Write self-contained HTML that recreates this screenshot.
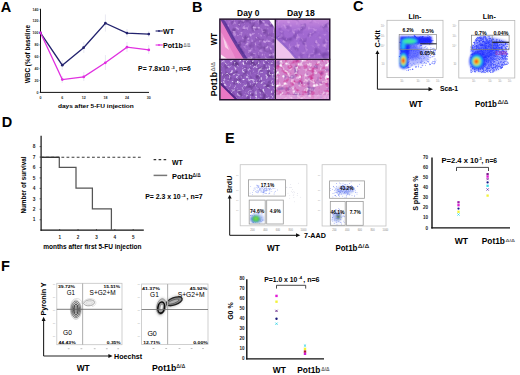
<!DOCTYPE html>
<html><head><meta charset="utf-8"><style>
html,body{margin:0;padding:0;background:#fff;}
svg{display:block;}
text{font-family:"Liberation Sans", sans-serif;}
</style></head><body>
<svg width="520" height="375" viewBox="0 0 520 375">
<rect width="520" height="375" fill="#fff"/>
<text x="0.8" y="11.5" font-size="14.5" font-weight="bold">A</text>
<line x1="40.5" y1="8.8" x2="40.5" y2="92.9" stroke="#111" stroke-width="1"/>
<line x1="40.0" y1="92.4" x2="149" y2="92.4" stroke="#111" stroke-width="1"/>
<text x="38.4" y="93.65" font-size="3.6" font-weight="bold" text-anchor="end" fill="#2a2a2a">0</text>
<line x1="39.3" y1="92.4" x2="40.5" y2="92.4" stroke="#444" stroke-width="0.5"/>
<text x="38.4" y="81.78" font-size="3.6" font-weight="bold" text-anchor="end" fill="#2a2a2a">20</text>
<line x1="39.3" y1="80.53" x2="40.5" y2="80.53" stroke="#444" stroke-width="0.5"/>
<text x="38.4" y="69.91000000000001" font-size="3.6" font-weight="bold" text-anchor="end" fill="#2a2a2a">40</text>
<line x1="39.3" y1="68.66000000000001" x2="40.5" y2="68.66000000000001" stroke="#444" stroke-width="0.5"/>
<text x="38.4" y="58.040000000000006" font-size="3.6" font-weight="bold" text-anchor="end" fill="#2a2a2a">60</text>
<line x1="39.3" y1="56.790000000000006" x2="40.5" y2="56.790000000000006" stroke="#444" stroke-width="0.5"/>
<text x="38.4" y="46.17000000000001" font-size="3.6" font-weight="bold" text-anchor="end" fill="#2a2a2a">80</text>
<line x1="39.3" y1="44.92000000000001" x2="40.5" y2="44.92000000000001" stroke="#444" stroke-width="0.5"/>
<text x="38.4" y="34.30000000000001" font-size="3.6" font-weight="bold" text-anchor="end" fill="#2a2a2a">100</text>
<line x1="39.3" y1="33.05000000000001" x2="40.5" y2="33.05000000000001" stroke="#444" stroke-width="0.5"/>
<text x="38.4" y="22.430000000000007" font-size="3.6" font-weight="bold" text-anchor="end" fill="#2a2a2a">120</text>
<line x1="39.3" y1="21.180000000000007" x2="40.5" y2="21.180000000000007" stroke="#444" stroke-width="0.5"/>
<text x="38.4" y="10.560000000000016" font-size="3.6" font-weight="bold" text-anchor="end" fill="#2a2a2a">140</text>
<line x1="39.3" y1="9.310000000000016" x2="40.5" y2="9.310000000000016" stroke="#444" stroke-width="0.5"/>
<text x="40.5" y="99.2" font-size="3.6" font-weight="bold" text-anchor="middle" fill="#2a2a2a">0</text>
<text x="62.2" y="99.2" font-size="3.6" font-weight="bold" text-anchor="middle" fill="#2a2a2a">6</text>
<text x="83.8" y="99.2" font-size="3.6" font-weight="bold" text-anchor="middle" fill="#2a2a2a">12</text>
<text x="105.4" y="99.2" font-size="3.6" font-weight="bold" text-anchor="middle" fill="#2a2a2a">18</text>
<text x="127.0" y="99.2" font-size="3.6" font-weight="bold" text-anchor="middle" fill="#2a2a2a">24</text>
<text x="148.7" y="99.2" font-size="3.6" font-weight="bold" text-anchor="middle" fill="#2a2a2a">30</text>
<line x1="105.4" y1="14.5" x2="105.4" y2="31.5" stroke="#d8d8e8" stroke-width="0.6"/>
<line x1="83.8" y1="42" x2="83.8" y2="53" stroke="#d8d8e8" stroke-width="0.6"/>
<line x1="127" y1="29" x2="127" y2="37" stroke="#d8d8e8" stroke-width="0.6"/>
<line x1="148.7" y1="31" x2="148.7" y2="37" stroke="#d8d8e8" stroke-width="0.6"/>
<line x1="62.2" y1="60" x2="62.2" y2="70" stroke="#d8d8e8" stroke-width="0.6"/>
<line x1="105.4" y1="55" x2="105.4" y2="70" stroke="#d8d8e8" stroke-width="0.6"/>
<line x1="127" y1="42" x2="127" y2="52" stroke="#d8d8e8" stroke-width="0.6"/>
<line x1="148.7" y1="45" x2="148.7" y2="54" stroke="#d8d8e8" stroke-width="0.6"/>
<line x1="83.8" y1="72" x2="83.8" y2="81" stroke="#d8d8e8" stroke-width="0.6"/>
<line x1="62.2" y1="76" x2="62.2" y2="83" stroke="#d8d8e8" stroke-width="0.6"/>
<polyline points="40.5,32.8 62.3,65.2 83.6,47.7 105.4,23.2 127,33.1 148.8,34.1" fill="none" stroke="#22226e" stroke-width="1.3"/>
<polyline points="40.5,32.8 62.3,79.6 83.7,76.9 105.3,62.8 127,47.2 148.8,49.9" fill="none" stroke="#e030e0" stroke-width="1.3"/>
<circle cx="40.5" cy="32.8" r="1.35" fill="#22226e"/>
<circle cx="62.3" cy="65.2" r="1.35" fill="#22226e"/>
<circle cx="83.6" cy="47.7" r="1.35" fill="#22226e"/>
<circle cx="105.4" cy="23.2" r="1.35" fill="#22226e"/>
<circle cx="127" cy="33.1" r="1.35" fill="#22226e"/>
<circle cx="148.8" cy="34.1" r="1.35" fill="#22226e"/>
<circle cx="40.5" cy="32.8" r="1.35" fill="#e030e0"/>
<circle cx="62.3" cy="79.6" r="1.35" fill="#e030e0"/>
<circle cx="83.7" cy="76.9" r="1.35" fill="#e030e0"/>
<circle cx="105.3" cy="62.8" r="1.35" fill="#e030e0"/>
<circle cx="127" cy="47.2" r="1.35" fill="#e030e0"/>
<circle cx="148.8" cy="49.9" r="1.35" fill="#e030e0"/>
<text x="29.9" y="83.2" font-size="6.5" font-weight="bold" textLength="58.3" lengthAdjust="spacingAndGlyphs" transform="rotate(-90 29.9 83.2)">WBC (%of baseline</text>
<text x="57.9" y="107.6" font-size="6.1" font-weight="bold" textLength="75.8" lengthAdjust="spacingAndGlyphs">days after 5-FU injection</text>
<line x1="155.6" y1="31" x2="162.8" y2="31" stroke="#22226e" stroke-width="1.1"/>
<circle cx="159" cy="31" r="0.9" fill="#22226e"/>
<text x="163" y="33.6" font-size="7.4" font-weight="bold" textLength="11" lengthAdjust="spacingAndGlyphs">WT</text>
<line x1="155.6" y1="45" x2="162.8" y2="45" stroke="#e030e0" stroke-width="1.1"/>
<circle cx="159" cy="45" r="0.9" fill="#e030e0"/>
<text x="163" y="47.6" font-size="7.4" font-weight="bold" textLength="19.8" lengthAdjust="spacingAndGlyphs">Pot1b</text>
<text x="183.6" y="46.6" font-size="5.4" font-weight="bold" textLength="6.8" lengthAdjust="spacingAndGlyphs" fill="#777">Δ/Δ</text>
<text x="138.1" y="70.9" font-size="6.9" font-weight="bold" textLength="31.5" lengthAdjust="spacingAndGlyphs">P= 7.8x10</text>
<text x="171.2" y="68.5" font-size="4.2" font-weight="bold" textLength="3.5" lengthAdjust="spacingAndGlyphs">-3</text>
<text x="175.4" y="70.9" font-size="6.9" font-weight="bold" textLength="15.3" lengthAdjust="spacingAndGlyphs">, n=6</text>
<text x="191.9" y="11.5" font-size="14.5" font-weight="bold">B</text>
<text x="237.1" y="15.5" font-size="9.0" font-weight="bold" textLength="22.3" lengthAdjust="spacingAndGlyphs">Day 0</text>
<text x="287.1" y="15.5" font-size="9.0" font-weight="bold" textLength="27.7" lengthAdjust="spacingAndGlyphs">Day 18</text>
<text x="217.2" y="45.2" font-size="8.4" font-weight="bold" textLength="12.2" lengthAdjust="spacingAndGlyphs" transform="rotate(-90 217.2 45.2)">WT</text>
<text x="217.3" y="96.3" font-size="8.4" font-weight="bold" textLength="24.3" lengthAdjust="spacingAndGlyphs" transform="rotate(-90 217.3 96.3)">Pot1b</text>
<text x="215.2" y="71.6" font-size="4.8" font-weight="bold" textLength="9.6" lengthAdjust="spacingAndGlyphs" fill="#777" transform="rotate(-90 215.2 71.6)">Δ/Δ</text>
<defs><clipPath id="cTL"><rect x="220.4" y="19.8" width="54.3" height="39"/></clipPath><clipPath id="cTR"><rect x="275.9" y="19.8" width="53.4" height="39"/></clipPath><clipPath id="cBL"><rect x="220.4" y="59.9" width="54.3" height="39.4"/></clipPath><clipPath id="cBR"><rect x="275.9" y="59.9" width="53.4" height="39.4"/></clipPath><clipPath id="cEw"><rect x="249.6" y="200.5" width="15.2" height="23.1"/></clipPath><filter id="soft" x="0" y="0" width="1" height="1"><feGaussianBlur stdDeviation="0.35"/></filter><filter id="blur05" x="-20%" y="-20%" width="140%" height="140%"><feGaussianBlur stdDeviation="0.4"/></filter><filter id="blur1"><feGaussianBlur stdDeviation="0.8"/></filter><filter id="blur2"><feGaussianBlur stdDeviation="1.5"/></filter><linearGradient id="gTR" x1="0" y1="0" x2="0" y2="1"><stop offset="0" stop-color="#c88ade"/><stop offset="0.3" stop-color="#a26ad2"/><stop offset="1" stop-color="#9c66cc"/></linearGradient></defs>
<g clip-path="url(#cTL)"><g filter="url(#tile)">
<rect x="220" y="19.5" width="55" height="40" fill="#9862c4" stroke="none" stroke-width="1"/>
<rect x="220" y="19.5" width="55" height="40" fill="#000" filter="url(#tl_d)"/>
<rect x="220" y="19.5" width="55" height="40" fill="#000" filter="url(#tl_l)"/>
<g filter="url(#soft)">
<polygon points="219,19 222,19 226,26 232,37 238,47 246,59.5 219,59.5" fill="#e67cc6"/>
<polygon points="219,30 222.5,34 228,44 233,53 236,59.5 219,59.5" fill="#ee98d4" opacity="0.8"/>
<polygon points="223,37 226,42 229,50 225,47" fill="#fbe0f0" opacity="0.8"/>
<polyline points="222,19 226,26 232,37 238,47 246,59.5" fill="none" stroke="#4e2c94" stroke-width="3.4" opacity="0.8"/>
<polygon points="268.5,19 275,19 275,28" fill="#ffffff"/>
<polygon points="221,54.5 227,58.8 221,58.8" fill="#fff" opacity="0.85"/>
</g>
</g></g>
<g clip-path="url(#cTR)"><g filter="url(#tile)">
<rect x="275.5" y="19.5" width="54.5" height="40" fill="url(#gTR)" stroke="none" stroke-width="1"/>
<rect x="275.5" y="19.5" width="54.5" height="40" fill="#000" filter="url(#tr_d)"/>
<rect x="275.5" y="19.5" width="54.5" height="40" fill="#000" filter="url(#tr_l)"/>
<g filter="url(#soft)">
<polygon points="275,36.5 283,44 290,51 297,59.5 275,59.5" fill="#f0c4ec"/>
<polyline points="275,36.5 283,44 290,51 297,59.5" fill="none" stroke="#8a5cc8" stroke-width="2" opacity="0.8"/>
</g>
</g></g>
<g clip-path="url(#cBL)"><g filter="url(#tile)">
<rect x="220" y="59.5" width="55" height="40.5" fill="#905cbe" stroke="none" stroke-width="1"/>
<rect x="220" y="59.5" width="55" height="40.5" fill="#000" filter="url(#bl_d)"/>
<rect x="220" y="59.5" width="55" height="40.5" fill="#000" filter="url(#bl_l)"/>
<g filter="url(#soft)">
<polygon points="219,82 237,100 219,100" fill="#ea78c4"/>
<line x1="219" y1="82" x2="237" y2="100" stroke="#54288a" stroke-width="2"/>
</g>
</g></g>
<g clip-path="url(#cBR)"><g filter="url(#tile)">
<rect x="275.5" y="59.5" width="54.5" height="40.5" fill="#d488cc" stroke="none" stroke-width="1"/>
<rect x="275.5" y="59.5" width="54.5" height="40.5" fill="#000" filter="url(#br_m)"/>
<rect x="275.5" y="59.5" width="54.5" height="40.5" fill="#000" filter="url(#br_p)"/>
<rect x="275.5" y="59.5" width="54.5" height="40.5" fill="#000" filter="url(#br_w)"/>
<rect x="275.5" y="95" width="54.5" height="5" fill="#eab8e6" opacity="0.6"/>
</g></g>
<defs><filter id="tl_d" x="0" y="0" width="1" height="1" filterUnits="objectBoundingBox" color-interpolation-filters="sRGB"><feTurbulence type="fractalNoise" baseFrequency="0.16" numOctaves="2" seed="11" result="n"/><feColorMatrix in="n" type="matrix" values="0 0 0 0 0.431 0 0 0 0 0.243 0 0 0 0 0.596 0 3.0 0 0 -1.500"/></filter><filter id="tl_l" x="0" y="0" width="1" height="1" filterUnits="objectBoundingBox" color-interpolation-filters="sRGB"><feTurbulence type="fractalNoise" baseFrequency="0.3" numOctaves="2" seed="3" result="n"/><feColorMatrix in="n" type="matrix" values="0 0 0 0 0.831 0 0 0 0 0.667 0 0 0 0 0.925 3.2 0 0 0 -1.728"/></filter><filter id="tr_d" x="0" y="0" width="1" height="1" filterUnits="objectBoundingBox" color-interpolation-filters="sRGB"><feTurbulence type="fractalNoise" baseFrequency="0.14" numOctaves="2" seed="21" result="n"/><feColorMatrix in="n" type="matrix" values="0 0 0 0 0.478 0 0 0 0 0.282 0 0 0 0 0.675 0 3 0 0 -1.560"/></filter><filter id="tr_l" x="0" y="0" width="1" height="1" filterUnits="objectBoundingBox" color-interpolation-filters="sRGB"><feTurbulence type="fractalNoise" baseFrequency="0.25" numOctaves="2" seed="22" result="n"/><feColorMatrix in="n" type="matrix" values="0 0 0 0 0.824 0 0 0 0 0.627 0 0 0 0 0.910 3 0 0 0 -1.710"/></filter><filter id="bl_d" x="0" y="0" width="1" height="1" filterUnits="objectBoundingBox" color-interpolation-filters="sRGB"><feTurbulence type="fractalNoise" baseFrequency="0.18" numOctaves="2" seed="31" result="n"/><feColorMatrix in="n" type="matrix" values="0 0 0 0 0.400 0 0 0 0 0.220 0 0 0 0 0.557 0 3 0 0 -1.500"/></filter><filter id="bl_l" x="0" y="0" width="1" height="1" filterUnits="objectBoundingBox" color-interpolation-filters="sRGB"><feTurbulence type="fractalNoise" baseFrequency="0.38" numOctaves="2" seed="32" result="n"/><feColorMatrix in="n" type="matrix" values="0 0 0 0 0.941 0 0 0 0 0.902 0 0 0 0 0.988 3.6 0 0 0 -2.016"/></filter><filter id="br_m" x="0" y="0" width="1" height="1" filterUnits="objectBoundingBox" color-interpolation-filters="sRGB"><feTurbulence type="fractalNoise" baseFrequency="0.2" numOctaves="2" seed="41" result="n"/><feColorMatrix in="n" type="matrix" values="0 0 0 0 0.808 0 0 0 0 0.227 0 0 0 0 0.588 3.2 0 0 0 -1.600"/></filter><filter id="br_p" x="0" y="0" width="1" height="1" filterUnits="objectBoundingBox" color-interpolation-filters="sRGB"><feTurbulence type="fractalNoise" baseFrequency="0.15" numOctaves="2" seed="42" result="n"/><feColorMatrix in="n" type="matrix" values="0 0 0 0 0.502 0 0 0 0 0.314 0 0 0 0 0.675 0 3.2 0 0 -1.792"/></filter><filter id="br_w" x="0" y="0" width="1" height="1" filterUnits="objectBoundingBox" color-interpolation-filters="sRGB"><feTurbulence type="fractalNoise" baseFrequency="0.24" numOctaves="2" seed="43" result="n"/><feColorMatrix in="n" type="matrix" values="0 0 0 0 1.000 0 0 0 0 0.980 0 0 0 0 1.000 0 0 3.6 0 -1.944"/></filter><filter id="tile" x="-5%" y="-5%" width="110%" height="110%"><feGaussianBlur stdDeviation="0.45"/></filter></defs>
<rect x="219.9" y="19.15" width="109.85" height="80.6" fill="none" stroke="#24122e" stroke-width="1.5"/>
<line x1="275.3" y1="19" x2="275.3" y2="100" stroke="#24122e" stroke-width="1.4"/>
<line x1="219.5" y1="59.35" x2="330.3" y2="59.35" stroke="#24122e" stroke-width="1.4"/>
<text x="353.0" y="11.2" font-size="14.5" font-weight="bold">C</text>
<text x="408.4" y="19.0" font-size="7.3" font-weight="bold" textLength="12.9" lengthAdjust="spacingAndGlyphs">Lin-</text>
<text x="482.8" y="19.0" font-size="7.3" font-weight="bold" textLength="13.0" lengthAdjust="spacingAndGlyphs">Lin-</text>
<rect x="387" y="20.3" width="56" height="57.3" fill="none" stroke="#b8b8b8" stroke-width="0.8"/>
<text x="384.5" y="26.6" font-size="2.6" text-anchor="end" fill="#999">10²</text>
<text x="384.5" y="36.9" font-size="2.6" text-anchor="end" fill="#999">10³</text>
<text x="384.5" y="47.1" font-size="2.6" text-anchor="end" fill="#999">10⁴</text>
<text x="384.5" y="64.9" font-size="2.6" text-anchor="end" fill="#999">10</text>
<text x="402" y="81.8" font-size="2.6" text-anchor="middle" fill="#999">10³</text>
<text x="418.3" y="81.8" font-size="2.6" text-anchor="middle" fill="#999">10³</text>
<text x="428.2" y="81.8" font-size="2.6" text-anchor="middle" fill="#999">10³</text>
<text x="437.9" y="81.8" font-size="2.6" text-anchor="middle" fill="#999">10³</text>
<rect x="458.8" y="20.4" width="55.99999999999994" height="57.6" fill="none" stroke="#b8b8b8" stroke-width="0.8"/>
<text x="456.3" y="26.6" font-size="2.6" text-anchor="end" fill="#999">10²</text>
<text x="456.3" y="36.9" font-size="2.6" text-anchor="end" fill="#999">10³</text>
<text x="456.3" y="47.1" font-size="2.6" text-anchor="end" fill="#999">10⁴</text>
<text x="456.3" y="64.9" font-size="2.6" text-anchor="end" fill="#999">10</text>
<text x="473.8" y="82.2" font-size="2.6" text-anchor="middle" fill="#999">10³</text>
<text x="490.1" y="82.2" font-size="2.6" text-anchor="middle" fill="#999">10³</text>
<text x="500.0" y="82.2" font-size="2.6" text-anchor="middle" fill="#999">10³</text>
<text x="509.7" y="82.2" font-size="2.6" text-anchor="middle" fill="#999">10³</text>
<g fill="#5062ff"><circle cx="415.7" cy="47.4" r="0.45"/><circle cx="422.1" cy="53.6" r="0.45"/><circle cx="407.7" cy="57.7" r="0.45"/><circle cx="407.1" cy="55.6" r="0.45"/><circle cx="408.1" cy="45.6" r="0.45"/><circle cx="418.7" cy="67.0" r="0.45"/><circle cx="409.7" cy="49.5" r="0.45"/><circle cx="423.3" cy="54.5" r="0.45"/><circle cx="431.8" cy="51.4" r="0.45"/><circle cx="410.3" cy="46.4" r="0.45"/><circle cx="415.3" cy="66.7" r="0.45"/><circle cx="411.4" cy="59.9" r="0.45"/><circle cx="425.2" cy="53.8" r="0.45"/><circle cx="407.8" cy="49.0" r="0.45"/><circle cx="426.4" cy="55.4" r="0.45"/><circle cx="415.4" cy="60.0" r="0.45"/><circle cx="419.6" cy="51.7" r="0.45"/><circle cx="429.8" cy="63.3" r="0.45"/><circle cx="413.3" cy="59.7" r="0.45"/><circle cx="427.9" cy="51.4" r="0.45"/><circle cx="418.5" cy="65.0" r="0.45"/><circle cx="410.6" cy="57.2" r="0.45"/><circle cx="407.2" cy="62.4" r="0.45"/><circle cx="428.9" cy="59.6" r="0.45"/><circle cx="432.3" cy="52.1" r="0.45"/><circle cx="426.9" cy="60.2" r="0.45"/><circle cx="423.4" cy="56.2" r="0.45"/><circle cx="420.2" cy="62.3" r="0.45"/><circle cx="407.8" cy="63.3" r="0.45"/><circle cx="430.7" cy="51.3" r="0.45"/><circle cx="417.6" cy="62.4" r="0.45"/><circle cx="406.7" cy="56.4" r="0.45"/><circle cx="411.0" cy="46.4" r="0.45"/><circle cx="407.8" cy="65.3" r="0.45"/><circle cx="409.9" cy="50.2" r="0.45"/><circle cx="408.4" cy="56.0" r="0.45"/><circle cx="414.4" cy="55.0" r="0.45"/><circle cx="411.3" cy="49.7" r="0.45"/><circle cx="413.0" cy="57.1" r="0.45"/><circle cx="423.7" cy="50.6" r="0.45"/><circle cx="406.1" cy="55.1" r="0.45"/><circle cx="417.1" cy="59.4" r="0.45"/><circle cx="434.6" cy="63.0" r="0.45"/><circle cx="421.5" cy="60.9" r="0.45"/><circle cx="417.8" cy="54.6" r="0.45"/><circle cx="409.1" cy="61.4" r="0.45"/><circle cx="407.9" cy="45.0" r="0.45"/><circle cx="412.3" cy="47.7" r="0.45"/><circle cx="406.0" cy="47.4" r="0.45"/><circle cx="409.0" cy="53.5" r="0.45"/><circle cx="406.8" cy="68.4" r="0.45"/><circle cx="424.4" cy="47.3" r="0.45"/><circle cx="413.6" cy="53.1" r="0.45"/><circle cx="416.9" cy="46.6" r="0.45"/><circle cx="420.0" cy="57.0" r="0.45"/><circle cx="408.6" cy="46.0" r="0.45"/><circle cx="416.3" cy="50.7" r="0.45"/><circle cx="430.9" cy="47.7" r="0.45"/><circle cx="406.7" cy="70.6" r="0.45"/><circle cx="421.8" cy="47.3" r="0.45"/><circle cx="431.9" cy="63.2" r="0.45"/><circle cx="413.8" cy="53.6" r="0.45"/><circle cx="411.0" cy="65.4" r="0.45"/><circle cx="422.0" cy="65.6" r="0.45"/><circle cx="415.9" cy="49.5" r="0.45"/><circle cx="430.5" cy="64.5" r="0.45"/><circle cx="412.8" cy="58.0" r="0.45"/><circle cx="406.8" cy="51.1" r="0.45"/><circle cx="413.8" cy="63.1" r="0.45"/><circle cx="434.7" cy="56.0" r="0.45"/><circle cx="434.7" cy="53.6" r="0.45"/><circle cx="412.6" cy="49.6" r="0.45"/><circle cx="411.9" cy="48.9" r="0.45"/><circle cx="431.2" cy="56.9" r="0.45"/><circle cx="408.5" cy="62.2" r="0.45"/><circle cx="428.5" cy="56.9" r="0.45"/><circle cx="411.4" cy="65.9" r="0.45"/><circle cx="416.0" cy="66.2" r="0.45"/><circle cx="435.1" cy="54.5" r="0.45"/><circle cx="427.7" cy="47.9" r="0.45"/><circle cx="409.8" cy="47.4" r="0.45"/><circle cx="410.4" cy="67.0" r="0.45"/><circle cx="435.4" cy="62.1" r="0.45"/><circle cx="416.5" cy="58.9" r="0.45"/><circle cx="435.1" cy="61.8" r="0.45"/><circle cx="430.8" cy="49.1" r="0.45"/><circle cx="413.6" cy="51.5" r="0.45"/><circle cx="413.2" cy="60.0" r="0.45"/><circle cx="413.8" cy="55.2" r="0.45"/><circle cx="409.9" cy="69.4" r="0.45"/><circle cx="416.6" cy="56.3" r="0.45"/><circle cx="421.0" cy="58.4" r="0.45"/><circle cx="419.2" cy="48.3" r="0.45"/><circle cx="406.1" cy="66.2" r="0.45"/><circle cx="411.2" cy="56.7" r="0.45"/><circle cx="427.8" cy="59.1" r="0.45"/><circle cx="415.8" cy="58.0" r="0.45"/><circle cx="422.7" cy="65.7" r="0.45"/><circle cx="409.2" cy="59.2" r="0.45"/><circle cx="413.5" cy="51.0" r="0.45"/><circle cx="429.2" cy="57.7" r="0.45"/><circle cx="422.9" cy="65.0" r="0.45"/><circle cx="433.4" cy="55.9" r="0.45"/><circle cx="424.4" cy="57.7" r="0.45"/><circle cx="421.4" cy="63.1" r="0.45"/><circle cx="419.6" cy="58.5" r="0.45"/><circle cx="434.3" cy="50.5" r="0.45"/><circle cx="409.6" cy="55.8" r="0.45"/><circle cx="408.2" cy="50.0" r="0.45"/><circle cx="408.2" cy="62.4" r="0.45"/><circle cx="410.6" cy="63.8" r="0.45"/><circle cx="425.8" cy="47.1" r="0.45"/><circle cx="417.9" cy="57.1" r="0.45"/><circle cx="410.8" cy="55.5" r="0.45"/><circle cx="421.5" cy="52.8" r="0.45"/><circle cx="411.9" cy="52.2" r="0.45"/><circle cx="422.6" cy="55.8" r="0.45"/><circle cx="406.5" cy="52.6" r="0.45"/><circle cx="424.7" cy="57.9" r="0.45"/><circle cx="409.1" cy="50.7" r="0.45"/><circle cx="407.2" cy="65.6" r="0.45"/><circle cx="414.1" cy="46.8" r="0.45"/><circle cx="430.6" cy="50.5" r="0.45"/><circle cx="410.5" cy="69.7" r="0.45"/><circle cx="423.1" cy="63.3" r="0.45"/><circle cx="408.7" cy="44.7" r="0.45"/><circle cx="426.6" cy="55.3" r="0.45"/><circle cx="408.2" cy="70.2" r="0.45"/><circle cx="408.5" cy="67.8" r="0.45"/><circle cx="408.0" cy="68.0" r="0.45"/><circle cx="419.6" cy="52.8" r="0.45"/><circle cx="414.0" cy="46.7" r="0.45"/><circle cx="421.8" cy="49.9" r="0.45"/><circle cx="409.3" cy="47.7" r="0.45"/><circle cx="407.5" cy="48.9" r="0.45"/><circle cx="415.4" cy="51.8" r="0.45"/><circle cx="428.8" cy="51.4" r="0.45"/><circle cx="421.0" cy="48.2" r="0.45"/><circle cx="428.0" cy="59.0" r="0.45"/><circle cx="411.7" cy="56.8" r="0.45"/><circle cx="430.6" cy="55.5" r="0.45"/><circle cx="420.9" cy="67.2" r="0.45"/><circle cx="417.8" cy="57.7" r="0.45"/><circle cx="416.3" cy="67.1" r="0.45"/><circle cx="427.2" cy="61.4" r="0.45"/><circle cx="418.1" cy="53.1" r="0.45"/><circle cx="407.6" cy="46.8" r="0.45"/><circle cx="408.1" cy="64.5" r="0.45"/><circle cx="413.7" cy="47.7" r="0.45"/><circle cx="408.5" cy="67.4" r="0.45"/><circle cx="432.1" cy="62.4" r="0.45"/><circle cx="414.5" cy="50.0" r="0.45"/><circle cx="414.8" cy="56.3" r="0.45"/><circle cx="410.7" cy="55.9" r="0.45"/><circle cx="435.2" cy="58.9" r="0.45"/><circle cx="415.3" cy="53.3" r="0.45"/><circle cx="406.0" cy="54.1" r="0.45"/><circle cx="420.2" cy="57.6" r="0.45"/><circle cx="412.0" cy="57.6" r="0.45"/><circle cx="406.1" cy="50.7" r="0.45"/><circle cx="408.7" cy="54.6" r="0.45"/><circle cx="415.1" cy="49.8" r="0.45"/><circle cx="423.6" cy="58.3" r="0.45"/><circle cx="428.5" cy="62.1" r="0.45"/><circle cx="417.7" cy="52.5" r="0.45"/><circle cx="427.7" cy="61.7" r="0.45"/><circle cx="407.3" cy="67.2" r="0.45"/><circle cx="432.8" cy="61.2" r="0.45"/><circle cx="410.2" cy="58.2" r="0.45"/><circle cx="421.1" cy="67.2" r="0.45"/><circle cx="426.5" cy="63.1" r="0.45"/><circle cx="410.0" cy="53.5" r="0.45"/><circle cx="409.1" cy="67.2" r="0.45"/><circle cx="422.8" cy="61.2" r="0.45"/><circle cx="424.8" cy="62.7" r="0.45"/><circle cx="429.9" cy="64.7" r="0.45"/><circle cx="421.1" cy="58.5" r="0.45"/><circle cx="428.1" cy="50.3" r="0.45"/><circle cx="408.2" cy="50.7" r="0.45"/><circle cx="427.9" cy="49.0" r="0.45"/><circle cx="420.8" cy="54.1" r="0.45"/><circle cx="420.4" cy="62.8" r="0.45"/><circle cx="429.0" cy="60.9" r="0.45"/><circle cx="410.4" cy="50.4" r="0.45"/><circle cx="428.3" cy="51.8" r="0.45"/><circle cx="407.8" cy="50.8" r="0.45"/><circle cx="426.2" cy="63.1" r="0.45"/><circle cx="426.3" cy="51.4" r="0.45"/><circle cx="421.5" cy="56.5" r="0.45"/><circle cx="420.0" cy="46.4" r="0.45"/><circle cx="432.8" cy="48.8" r="0.45"/><circle cx="406.5" cy="56.3" r="0.45"/><circle cx="419.5" cy="50.8" r="0.45"/><circle cx="412.3" cy="59.9" r="0.45"/><circle cx="410.3" cy="58.2" r="0.45"/><circle cx="430.6" cy="57.8" r="0.45"/><circle cx="432.6" cy="63.4" r="0.45"/><circle cx="412.9" cy="69.0" r="0.45"/><circle cx="406.1" cy="57.3" r="0.45"/><circle cx="419.5" cy="51.8" r="0.45"/><circle cx="410.2" cy="53.0" r="0.45"/><circle cx="415.5" cy="67.4" r="0.45"/><circle cx="406.1" cy="64.8" r="0.45"/><circle cx="433.8" cy="63.7" r="0.45"/><circle cx="433.0" cy="51.4" r="0.45"/><circle cx="417.2" cy="54.4" r="0.45"/><circle cx="436.0" cy="60.1" r="0.45"/><circle cx="416.8" cy="55.4" r="0.45"/><circle cx="409.1" cy="67.2" r="0.45"/><circle cx="413.5" cy="50.7" r="0.45"/><circle cx="421.3" cy="48.5" r="0.45"/><circle cx="434.2" cy="58.9" r="0.45"/><circle cx="428.0" cy="56.1" r="0.45"/><circle cx="428.6" cy="61.7" r="0.45"/><circle cx="420.2" cy="53.0" r="0.45"/><circle cx="414.9" cy="64.4" r="0.45"/><circle cx="435.3" cy="50.5" r="0.45"/><circle cx="425.7" cy="51.7" r="0.45"/><circle cx="422.7" cy="54.4" r="0.45"/><circle cx="411.0" cy="47.7" r="0.45"/><circle cx="412.2" cy="69.3" r="0.45"/><circle cx="420.9" cy="49.4" r="0.45"/><circle cx="419.5" cy="47.0" r="0.45"/><circle cx="411.8" cy="45.6" r="0.45"/><circle cx="416.3" cy="45.6" r="0.45"/><circle cx="413.2" cy="50.5" r="0.45"/><circle cx="428.5" cy="55.0" r="0.45"/><circle cx="418.4" cy="58.2" r="0.45"/><circle cx="417.3" cy="52.8" r="0.45"/><circle cx="407.9" cy="51.0" r="0.45"/><circle cx="421.1" cy="61.3" r="0.45"/><circle cx="431.9" cy="49.3" r="0.45"/><circle cx="414.1" cy="50.2" r="0.45"/><circle cx="418.0" cy="55.9" r="0.45"/><circle cx="407.0" cy="63.6" r="0.45"/><circle cx="432.9" cy="56.7" r="0.45"/><circle cx="435.2" cy="50.2" r="0.45"/><circle cx="409.3" cy="47.5" r="0.45"/><circle cx="421.7" cy="62.8" r="0.45"/><circle cx="434.2" cy="63.9" r="0.45"/><circle cx="425.4" cy="65.2" r="0.45"/><circle cx="419.7" cy="59.0" r="0.45"/><circle cx="407.2" cy="65.7" r="0.45"/><circle cx="425.4" cy="51.8" r="0.45"/><circle cx="409.8" cy="50.3" r="0.45"/><circle cx="425.1" cy="63.3" r="0.45"/><circle cx="409.4" cy="45.0" r="0.45"/><circle cx="421.7" cy="59.9" r="0.45"/><circle cx="417.6" cy="49.5" r="0.45"/><circle cx="415.0" cy="56.4" r="0.45"/><circle cx="434.8" cy="61.7" r="0.45"/><circle cx="432.5" cy="56.8" r="0.45"/><circle cx="413.0" cy="50.2" r="0.45"/><circle cx="434.8" cy="63.4" r="0.45"/><circle cx="420.9" cy="62.6" r="0.45"/><circle cx="418.6" cy="50.5" r="0.45"/><circle cx="416.1" cy="55.2" r="0.45"/><circle cx="426.5" cy="48.7" r="0.45"/><circle cx="429.9" cy="64.4" r="0.45"/><circle cx="421.1" cy="49.0" r="0.45"/><circle cx="435.1" cy="52.0" r="0.45"/><circle cx="430.6" cy="49.7" r="0.45"/><circle cx="412.6" cy="65.1" r="0.45"/><circle cx="420.9" cy="48.4" r="0.45"/><circle cx="412.7" cy="55.1" r="0.45"/><circle cx="410.4" cy="54.4" r="0.45"/><circle cx="407.8" cy="54.4" r="0.45"/><circle cx="433.9" cy="52.5" r="0.45"/><circle cx="425.9" cy="54.0" r="0.45"/><circle cx="417.2" cy="52.6" r="0.45"/><circle cx="414.4" cy="53.2" r="0.45"/><circle cx="434.9" cy="49.0" r="0.45"/><circle cx="416.7" cy="66.8" r="0.45"/><circle cx="430.7" cy="55.5" r="0.45"/><circle cx="407.5" cy="56.7" r="0.45"/><circle cx="411.8" cy="53.6" r="0.45"/><circle cx="418.3" cy="66.5" r="0.45"/><circle cx="407.0" cy="44.8" r="0.45"/><circle cx="433.6" cy="50.5" r="0.45"/><circle cx="416.2" cy="50.9" r="0.45"/><circle cx="434.7" cy="60.9" r="0.45"/><circle cx="413.9" cy="63.8" r="0.45"/><circle cx="415.5" cy="51.0" r="0.45"/><circle cx="406.1" cy="64.9" r="0.45"/><circle cx="433.5" cy="61.4" r="0.45"/><circle cx="413.0" cy="56.8" r="0.45"/><circle cx="417.6" cy="50.3" r="0.45"/><circle cx="418.9" cy="57.3" r="0.45"/><circle cx="433.8" cy="48.3" r="0.45"/><circle cx="430.1" cy="64.4" r="0.45"/><circle cx="424.2" cy="52.5" r="0.45"/><circle cx="415.6" cy="53.5" r="0.45"/><circle cx="411.9" cy="64.8" r="0.45"/><circle cx="407.0" cy="59.0" r="0.45"/><circle cx="413.9" cy="45.4" r="0.45"/><circle cx="408.9" cy="57.5" r="0.45"/><circle cx="427.3" cy="56.0" r="0.45"/><circle cx="413.0" cy="55.1" r="0.45"/><circle cx="424.6" cy="62.5" r="0.45"/><circle cx="425.9" cy="46.5" r="0.45"/></g>
<g filter="url(#blur1)">
<path d="M408,44 L420,45 L430,52 L428,60 L420,64 L410,66 Z" fill="#6f7cff" opacity="0.55"/>
<path d="M408,44 L416,45 L422,52 L418,58 L410,60 Z" fill="#3a48ff" opacity="0.6"/>
<path d="M399.8,36.2 L431.5,36.6 L432.3,43.8 L410,44.6 L409,54 L408.6,66.5 L404,69 L399.8,67 Z" fill="#1e22ff"/>
</g>
<g fill="#2233ff"><circle cx="405.6" cy="43.0" r="0.5"/><circle cx="400.9" cy="46.1" r="0.5"/><circle cx="403.8" cy="43.4" r="0.5"/><circle cx="404.0" cy="57.5" r="0.5"/><circle cx="408.1" cy="67.0" r="0.5"/><circle cx="401.3" cy="45.8" r="0.5"/><circle cx="401.5" cy="49.7" r="0.5"/><circle cx="405.6" cy="49.7" r="0.5"/><circle cx="406.8" cy="52.1" r="0.5"/><circle cx="405.7" cy="54.4" r="0.5"/><circle cx="408.6" cy="47.8" r="0.5"/><circle cx="407.1" cy="45.9" r="0.5"/><circle cx="406.5" cy="41.9" r="0.5"/><circle cx="403.6" cy="67.3" r="0.5"/><circle cx="405.6" cy="48.4" r="0.5"/><circle cx="400.0" cy="42.1" r="0.5"/><circle cx="404.7" cy="59.4" r="0.5"/><circle cx="405.5" cy="55.2" r="0.5"/><circle cx="403.9" cy="63.5" r="0.5"/><circle cx="402.6" cy="44.5" r="0.5"/><circle cx="407.1" cy="50.6" r="0.5"/><circle cx="403.0" cy="44.2" r="0.5"/><circle cx="403.1" cy="56.2" r="0.5"/><circle cx="405.2" cy="37.9" r="0.5"/><circle cx="405.5" cy="51.8" r="0.5"/><circle cx="400.5" cy="57.7" r="0.5"/><circle cx="403.0" cy="46.6" r="0.5"/><circle cx="406.8" cy="63.2" r="0.5"/><circle cx="401.6" cy="54.4" r="0.5"/><circle cx="402.3" cy="61.9" r="0.5"/><circle cx="401.7" cy="58.1" r="0.5"/><circle cx="402.5" cy="55.0" r="0.5"/><circle cx="403.7" cy="43.3" r="0.5"/><circle cx="411.5" cy="50.8" r="0.5"/><circle cx="402.0" cy="51.4" r="0.5"/><circle cx="408.4" cy="51.2" r="0.5"/><circle cx="408.1" cy="57.4" r="0.5"/><circle cx="401.1" cy="58.6" r="0.5"/><circle cx="405.7" cy="56.5" r="0.5"/><circle cx="407.2" cy="57.3" r="0.5"/><circle cx="404.6" cy="54.9" r="0.5"/><circle cx="412.9" cy="40.5" r="0.5"/><circle cx="402.8" cy="50.4" r="0.5"/><circle cx="407.1" cy="45.6" r="0.5"/><circle cx="408.0" cy="42.1" r="0.5"/><circle cx="404.9" cy="44.7" r="0.5"/><circle cx="404.6" cy="43.1" r="0.5"/><circle cx="405.1" cy="44.4" r="0.5"/><circle cx="404.7" cy="59.9" r="0.5"/><circle cx="400.6" cy="48.9" r="0.5"/><circle cx="405.9" cy="55.3" r="0.5"/><circle cx="408.4" cy="53.3" r="0.5"/><circle cx="404.0" cy="47.2" r="0.5"/><circle cx="404.9" cy="45.7" r="0.5"/><circle cx="400.4" cy="42.6" r="0.5"/><circle cx="401.9" cy="43.9" r="0.5"/><circle cx="399.9" cy="56.4" r="0.5"/><circle cx="399.4" cy="56.6" r="0.5"/><circle cx="400.4" cy="53.5" r="0.5"/><circle cx="408.8" cy="52.0" r="0.5"/><circle cx="401.4" cy="50.5" r="0.5"/><circle cx="401.9" cy="51.6" r="0.5"/><circle cx="402.4" cy="50.8" r="0.5"/><circle cx="406.6" cy="57.7" r="0.5"/><circle cx="407.2" cy="55.9" r="0.5"/><circle cx="403.0" cy="49.8" r="0.5"/><circle cx="403.1" cy="46.9" r="0.5"/><circle cx="402.8" cy="49.8" r="0.5"/><circle cx="400.6" cy="49.8" r="0.5"/><circle cx="405.8" cy="48.4" r="0.5"/><circle cx="405.8" cy="47.0" r="0.5"/><circle cx="407.0" cy="53.7" r="0.5"/><circle cx="404.1" cy="44.1" r="0.5"/><circle cx="406.2" cy="45.1" r="0.5"/><circle cx="404.8" cy="44.9" r="0.5"/><circle cx="404.7" cy="57.5" r="0.5"/><circle cx="400.9" cy="49.7" r="0.5"/><circle cx="406.2" cy="51.5" r="0.5"/><circle cx="408.3" cy="69.9" r="0.5"/><circle cx="407.0" cy="65.3" r="0.5"/><circle cx="407.2" cy="58.1" r="0.5"/><circle cx="401.8" cy="42.9" r="0.5"/><circle cx="407.1" cy="40.9" r="0.5"/><circle cx="412.7" cy="69.2" r="0.5"/><circle cx="401.6" cy="42.7" r="0.5"/><circle cx="404.8" cy="42.5" r="0.5"/><circle cx="408.6" cy="49.2" r="0.5"/><circle cx="400.2" cy="63.1" r="0.5"/><circle cx="402.0" cy="52.2" r="0.5"/><circle cx="404.0" cy="46.9" r="0.5"/><circle cx="405.1" cy="43.1" r="0.5"/><circle cx="399.6" cy="42.4" r="0.5"/><circle cx="403.9" cy="50.6" r="0.5"/><circle cx="405.9" cy="51.2" r="0.5"/><circle cx="401.2" cy="42.9" r="0.5"/></g>
<g fill="#2233ff"><circle cx="424.4" cy="41.6" r="0.5"/><circle cx="418.9" cy="39.9" r="0.5"/><circle cx="428.4" cy="40.3" r="0.5"/><circle cx="426.6" cy="41.7" r="0.5"/><circle cx="421.9" cy="43.4" r="0.5"/><circle cx="414.8" cy="39.4" r="0.5"/><circle cx="412.7" cy="38.4" r="0.5"/><circle cx="420.2" cy="41.7" r="0.5"/><circle cx="430.6" cy="42.2" r="0.5"/><circle cx="430.8" cy="37.3" r="0.5"/><circle cx="414.2" cy="41.4" r="0.5"/><circle cx="432.9" cy="40.5" r="0.5"/><circle cx="412.3" cy="39.4" r="0.5"/><circle cx="414.1" cy="38.2" r="0.5"/><circle cx="420.2" cy="45.5" r="0.5"/><circle cx="430.7" cy="41.1" r="0.5"/><circle cx="414.5" cy="41.3" r="0.5"/><circle cx="431.4" cy="40.5" r="0.5"/><circle cx="424.6" cy="39.8" r="0.5"/><circle cx="423.8" cy="43.4" r="0.5"/><circle cx="407.1" cy="40.1" r="0.5"/><circle cx="422.2" cy="38.9" r="0.5"/><circle cx="417.2" cy="42.2" r="0.5"/><circle cx="422.9" cy="36.6" r="0.5"/><circle cx="419.7" cy="37.6" r="0.5"/><circle cx="419.5" cy="37.7" r="0.5"/><circle cx="420.6" cy="41.4" r="0.5"/><circle cx="420.3" cy="41.0" r="0.5"/><circle cx="412.3" cy="43.7" r="0.5"/><circle cx="414.1" cy="35.9" r="0.5"/><circle cx="418.3" cy="38.5" r="0.5"/><circle cx="410.9" cy="39.4" r="0.5"/><circle cx="422.6" cy="37.5" r="0.5"/><circle cx="418.8" cy="43.7" r="0.5"/><circle cx="426.1" cy="39.9" r="0.5"/><circle cx="421.1" cy="40.0" r="0.5"/><circle cx="419.6" cy="42.1" r="0.5"/><circle cx="419.8" cy="38.2" r="0.5"/><circle cx="425.9" cy="38.8" r="0.5"/><circle cx="421.3" cy="45.5" r="0.5"/><circle cx="410.6" cy="37.6" r="0.5"/><circle cx="403.1" cy="41.2" r="0.5"/><circle cx="414.3" cy="35.8" r="0.5"/><circle cx="406.7" cy="41.8" r="0.5"/><circle cx="413.0" cy="39.4" r="0.5"/><circle cx="423.0" cy="43.6" r="0.5"/><circle cx="421.3" cy="40.7" r="0.5"/><circle cx="417.2" cy="41.4" r="0.5"/><circle cx="422.6" cy="40.4" r="0.5"/><circle cx="415.5" cy="37.1" r="0.5"/><circle cx="415.2" cy="36.6" r="0.5"/><circle cx="431.0" cy="41.6" r="0.5"/><circle cx="409.1" cy="43.6" r="0.5"/><circle cx="428.0" cy="35.7" r="0.5"/><circle cx="424.8" cy="41.3" r="0.5"/><circle cx="421.8" cy="40.7" r="0.5"/><circle cx="429.5" cy="36.7" r="0.5"/><circle cx="408.8" cy="37.0" r="0.5"/><circle cx="415.0" cy="38.8" r="0.5"/><circle cx="423.3" cy="40.9" r="0.5"/><circle cx="420.3" cy="38.7" r="0.5"/><circle cx="416.0" cy="42.6" r="0.5"/><circle cx="426.9" cy="40.5" r="0.5"/><circle cx="417.1" cy="44.0" r="0.5"/><circle cx="414.7" cy="41.9" r="0.5"/><circle cx="430.4" cy="39.7" r="0.5"/><circle cx="427.4" cy="37.6" r="0.5"/><circle cx="429.1" cy="40.8" r="0.5"/><circle cx="405.7" cy="41.9" r="0.5"/><circle cx="412.0" cy="43.4" r="0.5"/><circle cx="413.9" cy="39.9" r="0.5"/><circle cx="422.5" cy="39.5" r="0.5"/><circle cx="422.3" cy="39.0" r="0.5"/><circle cx="426.0" cy="40.3" r="0.5"/><circle cx="430.5" cy="40.4" r="0.5"/><circle cx="404.0" cy="40.5" r="0.5"/><circle cx="424.2" cy="42.9" r="0.5"/><circle cx="410.3" cy="44.0" r="0.5"/><circle cx="418.7" cy="41.9" r="0.5"/><circle cx="416.7" cy="37.6" r="0.5"/><circle cx="429.9" cy="42.5" r="0.5"/><circle cx="414.8" cy="36.3" r="0.5"/><circle cx="414.1" cy="38.7" r="0.5"/><circle cx="412.7" cy="41.7" r="0.5"/><circle cx="423.0" cy="39.7" r="0.5"/><circle cx="421.6" cy="40.0" r="0.5"/><circle cx="421.9" cy="42.1" r="0.5"/><circle cx="428.6" cy="38.7" r="0.5"/><circle cx="406.4" cy="43.7" r="0.5"/><circle cx="421.0" cy="43.0" r="0.5"/><circle cx="405.2" cy="39.5" r="0.5"/><circle cx="420.2" cy="36.8" r="0.5"/><circle cx="415.4" cy="42.0" r="0.5"/><circle cx="429.7" cy="44.1" r="0.5"/><circle cx="412.2" cy="36.9" r="0.5"/><circle cx="424.7" cy="42.6" r="0.5"/><circle cx="421.7" cy="37.2" r="0.5"/><circle cx="427.0" cy="42.2" r="0.5"/><circle cx="425.0" cy="39.1" r="0.5"/><circle cx="422.7" cy="42.2" r="0.5"/><circle cx="415.0" cy="35.9" r="0.5"/><circle cx="423.0" cy="41.5" r="0.5"/><circle cx="420.1" cy="42.4" r="0.5"/><circle cx="414.7" cy="40.1" r="0.5"/><circle cx="417.3" cy="41.7" r="0.5"/><circle cx="427.1" cy="41.7" r="0.5"/><circle cx="419.0" cy="37.7" r="0.5"/><circle cx="424.3" cy="43.5" r="0.5"/><circle cx="424.8" cy="41.3" r="0.5"/><circle cx="418.2" cy="40.7" r="0.5"/><circle cx="407.2" cy="42.8" r="0.5"/><circle cx="416.3" cy="37.6" r="0.5"/><circle cx="413.2" cy="38.3" r="0.5"/><circle cx="427.7" cy="42.8" r="0.5"/><circle cx="407.8" cy="42.5" r="0.5"/><circle cx="428.0" cy="38.9" r="0.5"/><circle cx="406.6" cy="38.5" r="0.5"/><circle cx="414.3" cy="41.1" r="0.5"/><circle cx="422.1" cy="36.6" r="0.5"/><circle cx="428.1" cy="37.4" r="0.5"/><circle cx="413.8" cy="38.2" r="0.5"/><circle cx="415.1" cy="43.4" r="0.5"/><circle cx="427.7" cy="41.7" r="0.5"/><circle cx="422.9" cy="36.6" r="0.5"/><circle cx="415.3" cy="39.0" r="0.5"/><circle cx="411.2" cy="41.5" r="0.5"/><circle cx="413.3" cy="38.6" r="0.5"/><circle cx="425.4" cy="43.5" r="0.5"/><circle cx="421.6" cy="38.0" r="0.5"/><circle cx="430.9" cy="41.0" r="0.5"/></g>
<g filter="url(#blur1)">
<ellipse cx="409.5" cy="41" rx="8.6" ry="3.2" fill="#22c8f4"/>
<ellipse cx="403.2" cy="46" rx="2.6" ry="4" fill="#22b8f4"/>
<ellipse cx="409.4" cy="41.6" rx="6.2" ry="2.5" fill="#40e8a0"/>
<ellipse cx="403.5" cy="60.2" rx="3.8" ry="7.6" fill="#22c0f4"/>
<ellipse cx="403.4" cy="60.4" rx="2.9" ry="5.2" fill="#58ee70"/>
<ellipse cx="403.3" cy="60.5" rx="2.5" ry="4.0" fill="#f8f020"/>
<ellipse cx="403.3" cy="60.6" rx="1.7" ry="2.7" fill="#ff2010"/>
</g>
<g filter="url(#blur1)">
<path d="M478,36.5 L490,36.5 L507,41 L507,50 L506,62 L498,70 L480,72 L471.5,70 L471,50 Z" fill="#4a5aff" opacity="0.5"/>
<ellipse cx="484" cy="55" rx="18" ry="10" fill="#2a38ff" opacity="0.55" transform="rotate(-45 484 55)"/>
</g>
<g fill="#2f40ff"><circle cx="476.6" cy="64.5" r="0.48"/><circle cx="506.2" cy="55.0" r="0.48"/><circle cx="474.3" cy="57.0" r="0.48"/><circle cx="491.1" cy="62.2" r="0.48"/><circle cx="490.0" cy="59.3" r="0.48"/><circle cx="502.0" cy="55.0" r="0.48"/><circle cx="486.1" cy="70.6" r="0.48"/><circle cx="478.5" cy="61.0" r="0.48"/><circle cx="485.4" cy="63.8" r="0.48"/><circle cx="475.2" cy="71.9" r="0.48"/><circle cx="484.0" cy="38.1" r="0.48"/><circle cx="480.9" cy="50.6" r="0.48"/><circle cx="471.0" cy="51.3" r="0.48"/><circle cx="486.5" cy="61.5" r="0.48"/><circle cx="483.9" cy="45.7" r="0.48"/><circle cx="479.0" cy="63.1" r="0.48"/><circle cx="506.2" cy="55.2" r="0.48"/><circle cx="478.8" cy="65.3" r="0.48"/><circle cx="485.4" cy="43.7" r="0.48"/><circle cx="475.4" cy="64.3" r="0.48"/><circle cx="501.3" cy="59.2" r="0.48"/><circle cx="488.3" cy="56.5" r="0.48"/><circle cx="479.1" cy="71.2" r="0.48"/><circle cx="483.9" cy="59.3" r="0.48"/><circle cx="501.6" cy="65.8" r="0.48"/><circle cx="488.3" cy="46.7" r="0.48"/><circle cx="491.3" cy="40.6" r="0.48"/><circle cx="502.2" cy="48.9" r="0.48"/><circle cx="502.8" cy="45.8" r="0.48"/><circle cx="484.8" cy="45.3" r="0.48"/><circle cx="486.7" cy="42.8" r="0.48"/><circle cx="470.6" cy="62.3" r="0.48"/><circle cx="481.2" cy="44.9" r="0.48"/><circle cx="482.0" cy="53.5" r="0.48"/><circle cx="486.8" cy="59.3" r="0.48"/><circle cx="495.6" cy="49.2" r="0.48"/><circle cx="472.7" cy="66.2" r="0.48"/><circle cx="504.9" cy="64.6" r="0.48"/><circle cx="475.8" cy="66.3" r="0.48"/><circle cx="470.9" cy="70.7" r="0.48"/><circle cx="495.4" cy="45.1" r="0.48"/><circle cx="479.4" cy="64.3" r="0.48"/><circle cx="483.7" cy="41.6" r="0.48"/><circle cx="504.9" cy="64.9" r="0.48"/><circle cx="476.9" cy="68.5" r="0.48"/><circle cx="493.6" cy="64.5" r="0.48"/><circle cx="495.9" cy="68.6" r="0.48"/><circle cx="500.4" cy="66.6" r="0.48"/><circle cx="478.0" cy="61.3" r="0.48"/><circle cx="490.7" cy="63.1" r="0.48"/><circle cx="487.2" cy="68.2" r="0.48"/><circle cx="491.6" cy="45.7" r="0.48"/><circle cx="479.4" cy="41.1" r="0.48"/><circle cx="489.2" cy="38.1" r="0.48"/><circle cx="488.2" cy="41.3" r="0.48"/><circle cx="489.2" cy="54.2" r="0.48"/><circle cx="491.0" cy="67.5" r="0.48"/><circle cx="470.8" cy="66.7" r="0.48"/><circle cx="488.3" cy="56.5" r="0.48"/><circle cx="495.8" cy="66.7" r="0.48"/><circle cx="484.7" cy="51.3" r="0.48"/><circle cx="494.7" cy="59.2" r="0.48"/><circle cx="471.6" cy="58.3" r="0.48"/><circle cx="496.4" cy="70.0" r="0.48"/><circle cx="483.1" cy="71.8" r="0.48"/><circle cx="489.9" cy="53.7" r="0.48"/><circle cx="497.8" cy="58.8" r="0.48"/><circle cx="483.4" cy="67.5" r="0.48"/><circle cx="484.4" cy="53.3" r="0.48"/><circle cx="490.5" cy="64.1" r="0.48"/><circle cx="478.5" cy="51.9" r="0.48"/><circle cx="486.6" cy="56.2" r="0.48"/><circle cx="501.9" cy="46.7" r="0.48"/><circle cx="502.0" cy="50.7" r="0.48"/><circle cx="489.6" cy="45.9" r="0.48"/><circle cx="489.7" cy="71.6" r="0.48"/><circle cx="495.4" cy="64.9" r="0.48"/><circle cx="483.1" cy="47.6" r="0.48"/><circle cx="481.9" cy="57.4" r="0.48"/><circle cx="494.6" cy="64.6" r="0.48"/><circle cx="472.0" cy="62.4" r="0.48"/><circle cx="504.2" cy="55.9" r="0.48"/><circle cx="472.4" cy="47.0" r="0.48"/><circle cx="505.5" cy="58.2" r="0.48"/><circle cx="495.5" cy="64.8" r="0.48"/><circle cx="505.1" cy="58.3" r="0.48"/><circle cx="493.9" cy="58.9" r="0.48"/><circle cx="497.0" cy="57.8" r="0.48"/><circle cx="496.4" cy="43.8" r="0.48"/><circle cx="495.8" cy="52.7" r="0.48"/><circle cx="477.4" cy="37.3" r="0.48"/><circle cx="495.4" cy="49.5" r="0.48"/><circle cx="501.8" cy="64.7" r="0.48"/><circle cx="491.9" cy="45.4" r="0.48"/><circle cx="482.0" cy="51.4" r="0.48"/><circle cx="482.6" cy="51.7" r="0.48"/><circle cx="494.9" cy="70.1" r="0.48"/><circle cx="472.6" cy="56.7" r="0.48"/><circle cx="501.3" cy="57.0" r="0.48"/><circle cx="505.4" cy="52.3" r="0.48"/><circle cx="471.0" cy="50.1" r="0.48"/><circle cx="493.0" cy="70.2" r="0.48"/><circle cx="507.8" cy="53.4" r="0.48"/><circle cx="486.2" cy="39.7" r="0.48"/><circle cx="495.0" cy="43.7" r="0.48"/><circle cx="470.7" cy="61.0" r="0.48"/><circle cx="475.1" cy="71.3" r="0.48"/><circle cx="473.8" cy="67.7" r="0.48"/><circle cx="497.8" cy="44.8" r="0.48"/><circle cx="498.4" cy="42.8" r="0.48"/><circle cx="472.4" cy="64.3" r="0.48"/><circle cx="497.6" cy="67.2" r="0.48"/><circle cx="494.4" cy="61.9" r="0.48"/><circle cx="488.0" cy="70.0" r="0.48"/><circle cx="480.2" cy="71.2" r="0.48"/><circle cx="471.1" cy="59.8" r="0.48"/><circle cx="482.3" cy="62.6" r="0.48"/><circle cx="476.8" cy="67.4" r="0.48"/><circle cx="489.0" cy="38.2" r="0.48"/><circle cx="484.5" cy="57.0" r="0.48"/><circle cx="487.2" cy="60.7" r="0.48"/><circle cx="476.0" cy="65.1" r="0.48"/><circle cx="484.3" cy="59.5" r="0.48"/><circle cx="494.4" cy="51.3" r="0.48"/><circle cx="485.2" cy="64.7" r="0.48"/><circle cx="506.4" cy="64.6" r="0.48"/><circle cx="492.0" cy="46.7" r="0.48"/><circle cx="472.8" cy="71.5" r="0.48"/><circle cx="497.2" cy="66.2" r="0.48"/><circle cx="483.1" cy="58.1" r="0.48"/><circle cx="493.3" cy="47.3" r="0.48"/><circle cx="486.8" cy="68.4" r="0.48"/><circle cx="484.8" cy="61.0" r="0.48"/><circle cx="493.4" cy="68.7" r="0.48"/><circle cx="501.2" cy="46.3" r="0.48"/><circle cx="486.6" cy="57.4" r="0.48"/><circle cx="472.1" cy="66.4" r="0.48"/><circle cx="501.3" cy="67.7" r="0.48"/><circle cx="492.2" cy="46.0" r="0.48"/><circle cx="502.8" cy="65.5" r="0.48"/><circle cx="496.5" cy="69.4" r="0.48"/><circle cx="483.7" cy="39.1" r="0.48"/><circle cx="491.5" cy="65.1" r="0.48"/><circle cx="478.1" cy="63.4" r="0.48"/><circle cx="505.9" cy="44.5" r="0.48"/><circle cx="493.6" cy="60.7" r="0.48"/><circle cx="488.2" cy="43.5" r="0.48"/><circle cx="480.2" cy="63.4" r="0.48"/><circle cx="500.6" cy="52.8" r="0.48"/><circle cx="473.8" cy="65.4" r="0.48"/><circle cx="499.8" cy="44.5" r="0.48"/><circle cx="492.5" cy="68.7" r="0.48"/><circle cx="504.1" cy="55.0" r="0.48"/><circle cx="488.6" cy="57.5" r="0.48"/><circle cx="477.7" cy="43.0" r="0.48"/><circle cx="477.4" cy="61.6" r="0.48"/><circle cx="484.3" cy="56.6" r="0.48"/><circle cx="485.8" cy="54.9" r="0.48"/><circle cx="508.4" cy="49.7" r="0.48"/><circle cx="474.5" cy="59.1" r="0.48"/><circle cx="500.4" cy="41.7" r="0.48"/><circle cx="493.2" cy="48.6" r="0.48"/><circle cx="471.8" cy="72.1" r="0.48"/><circle cx="503.4" cy="53.8" r="0.48"/><circle cx="492.1" cy="45.5" r="0.48"/><circle cx="500.1" cy="51.5" r="0.48"/><circle cx="506.5" cy="64.0" r="0.48"/><circle cx="480.2" cy="37.4" r="0.48"/><circle cx="478.1" cy="42.6" r="0.48"/><circle cx="491.7" cy="67.8" r="0.48"/><circle cx="487.9" cy="70.6" r="0.48"/><circle cx="493.2" cy="50.5" r="0.48"/><circle cx="475.1" cy="71.0" r="0.48"/><circle cx="480.3" cy="56.6" r="0.48"/><circle cx="494.8" cy="70.9" r="0.48"/><circle cx="495.9" cy="50.3" r="0.48"/><circle cx="487.5" cy="41.8" r="0.48"/><circle cx="478.9" cy="37.4" r="0.48"/><circle cx="480.2" cy="48.8" r="0.48"/><circle cx="500.4" cy="61.9" r="0.48"/><circle cx="496.2" cy="46.9" r="0.48"/><circle cx="493.0" cy="63.7" r="0.48"/><circle cx="474.5" cy="47.8" r="0.48"/><circle cx="480.3" cy="40.5" r="0.48"/><circle cx="488.8" cy="42.2" r="0.48"/><circle cx="479.6" cy="41.2" r="0.48"/><circle cx="497.8" cy="43.1" r="0.48"/><circle cx="471.9" cy="69.9" r="0.48"/><circle cx="478.9" cy="70.1" r="0.48"/><circle cx="475.8" cy="52.3" r="0.48"/><circle cx="474.2" cy="69.9" r="0.48"/><circle cx="502.5" cy="58.9" r="0.48"/><circle cx="487.7" cy="48.4" r="0.48"/><circle cx="501.8" cy="53.4" r="0.48"/><circle cx="494.4" cy="41.2" r="0.48"/><circle cx="478.9" cy="38.1" r="0.48"/><circle cx="497.6" cy="56.2" r="0.48"/><circle cx="476.0" cy="67.8" r="0.48"/><circle cx="480.6" cy="51.0" r="0.48"/><circle cx="476.4" cy="45.9" r="0.48"/><circle cx="502.4" cy="48.2" r="0.48"/><circle cx="476.9" cy="53.9" r="0.48"/><circle cx="482.6" cy="69.0" r="0.48"/><circle cx="474.8" cy="71.7" r="0.48"/><circle cx="472.7" cy="68.7" r="0.48"/><circle cx="495.9" cy="43.7" r="0.48"/><circle cx="488.6" cy="46.4" r="0.48"/><circle cx="480.3" cy="43.4" r="0.48"/><circle cx="484.3" cy="72.2" r="0.48"/><circle cx="474.2" cy="46.6" r="0.48"/><circle cx="498.1" cy="46.7" r="0.48"/><circle cx="501.2" cy="48.4" r="0.48"/><circle cx="502.1" cy="55.2" r="0.48"/><circle cx="477.6" cy="51.9" r="0.48"/><circle cx="505.2" cy="44.0" r="0.48"/><circle cx="492.2" cy="41.0" r="0.48"/><circle cx="477.3" cy="64.1" r="0.48"/><circle cx="497.5" cy="43.2" r="0.48"/><circle cx="493.6" cy="54.1" r="0.48"/><circle cx="480.9" cy="43.5" r="0.48"/><circle cx="493.8" cy="61.8" r="0.48"/><circle cx="501.3" cy="57.3" r="0.48"/><circle cx="478.2" cy="38.4" r="0.48"/><circle cx="498.3" cy="50.9" r="0.48"/><circle cx="501.3" cy="48.2" r="0.48"/><circle cx="502.5" cy="67.6" r="0.48"/><circle cx="489.2" cy="36.6" r="0.48"/><circle cx="505.1" cy="53.4" r="0.48"/><circle cx="503.6" cy="45.7" r="0.48"/><circle cx="477.6" cy="66.4" r="0.48"/><circle cx="484.4" cy="42.0" r="0.48"/><circle cx="484.6" cy="57.7" r="0.48"/><circle cx="470.7" cy="55.0" r="0.48"/><circle cx="487.4" cy="54.8" r="0.48"/><circle cx="475.1" cy="62.1" r="0.48"/><circle cx="501.5" cy="67.6" r="0.48"/><circle cx="482.7" cy="62.0" r="0.48"/><circle cx="485.0" cy="63.4" r="0.48"/><circle cx="472.8" cy="67.9" r="0.48"/><circle cx="506.8" cy="54.1" r="0.48"/><circle cx="490.0" cy="55.4" r="0.48"/><circle cx="507.3" cy="44.2" r="0.48"/><circle cx="477.4" cy="39.7" r="0.48"/><circle cx="480.0" cy="65.8" r="0.48"/><circle cx="497.1" cy="43.1" r="0.48"/><circle cx="471.2" cy="57.9" r="0.48"/><circle cx="492.4" cy="55.1" r="0.48"/><circle cx="497.2" cy="39.8" r="0.48"/><circle cx="503.5" cy="62.2" r="0.48"/><circle cx="489.3" cy="54.3" r="0.48"/><circle cx="481.1" cy="40.5" r="0.48"/><circle cx="485.9" cy="41.0" r="0.48"/><circle cx="493.0" cy="67.4" r="0.48"/><circle cx="476.1" cy="56.9" r="0.48"/><circle cx="498.9" cy="42.0" r="0.48"/><circle cx="485.3" cy="51.3" r="0.48"/><circle cx="502.4" cy="55.2" r="0.48"/><circle cx="485.5" cy="70.4" r="0.48"/><circle cx="500.0" cy="48.4" r="0.48"/><circle cx="479.6" cy="48.2" r="0.48"/><circle cx="487.1" cy="71.8" r="0.48"/><circle cx="501.5" cy="66.9" r="0.48"/><circle cx="472.5" cy="54.9" r="0.48"/><circle cx="480.0" cy="51.4" r="0.48"/><circle cx="494.5" cy="49.3" r="0.48"/><circle cx="490.7" cy="38.5" r="0.48"/><circle cx="487.0" cy="54.4" r="0.48"/><circle cx="507.3" cy="64.3" r="0.48"/><circle cx="506.1" cy="59.1" r="0.48"/><circle cx="501.3" cy="68.3" r="0.48"/><circle cx="494.9" cy="45.7" r="0.48"/><circle cx="496.3" cy="46.0" r="0.48"/><circle cx="491.1" cy="69.7" r="0.48"/><circle cx="494.1" cy="45.1" r="0.48"/><circle cx="490.3" cy="51.8" r="0.48"/><circle cx="506.6" cy="46.5" r="0.48"/><circle cx="482.1" cy="59.6" r="0.48"/><circle cx="475.1" cy="57.7" r="0.48"/><circle cx="506.8" cy="54.8" r="0.48"/><circle cx="480.7" cy="53.0" r="0.48"/><circle cx="490.8" cy="41.4" r="0.48"/><circle cx="475.2" cy="40.8" r="0.48"/><circle cx="481.7" cy="50.8" r="0.48"/><circle cx="481.5" cy="44.9" r="0.48"/><circle cx="473.8" cy="55.9" r="0.48"/><circle cx="502.4" cy="58.3" r="0.48"/><circle cx="492.2" cy="59.7" r="0.48"/><circle cx="478.1" cy="61.9" r="0.48"/><circle cx="488.0" cy="56.0" r="0.48"/><circle cx="493.8" cy="53.1" r="0.48"/><circle cx="482.3" cy="44.8" r="0.48"/><circle cx="478.9" cy="54.7" r="0.48"/><circle cx="485.1" cy="57.4" r="0.48"/><circle cx="471.0" cy="48.9" r="0.48"/><circle cx="503.3" cy="44.7" r="0.48"/><circle cx="491.7" cy="53.9" r="0.48"/><circle cx="481.3" cy="72.0" r="0.48"/><circle cx="481.7" cy="64.2" r="0.48"/><circle cx="476.5" cy="38.4" r="0.48"/><circle cx="503.6" cy="52.1" r="0.48"/><circle cx="472.9" cy="50.2" r="0.48"/><circle cx="487.2" cy="62.8" r="0.48"/><circle cx="474.7" cy="44.2" r="0.48"/><circle cx="507.0" cy="63.0" r="0.48"/><circle cx="476.4" cy="48.3" r="0.48"/><circle cx="483.9" cy="60.7" r="0.48"/><circle cx="493.9" cy="67.0" r="0.48"/><circle cx="501.7" cy="54.9" r="0.48"/><circle cx="498.6" cy="63.1" r="0.48"/><circle cx="499.4" cy="53.3" r="0.48"/><circle cx="500.3" cy="61.9" r="0.48"/><circle cx="499.6" cy="57.4" r="0.48"/><circle cx="489.4" cy="71.1" r="0.48"/><circle cx="492.2" cy="51.3" r="0.48"/><circle cx="500.3" cy="67.9" r="0.48"/><circle cx="493.6" cy="49.9" r="0.48"/><circle cx="487.7" cy="52.7" r="0.48"/><circle cx="498.0" cy="46.7" r="0.48"/><circle cx="485.3" cy="56.3" r="0.48"/><circle cx="485.1" cy="47.8" r="0.48"/><circle cx="500.4" cy="67.0" r="0.48"/><circle cx="489.5" cy="52.2" r="0.48"/><circle cx="477.5" cy="47.1" r="0.48"/><circle cx="476.0" cy="57.0" r="0.48"/><circle cx="492.6" cy="39.2" r="0.48"/><circle cx="505.5" cy="47.8" r="0.48"/><circle cx="502.5" cy="66.6" r="0.48"/><circle cx="506.9" cy="43.5" r="0.48"/><circle cx="486.7" cy="69.2" r="0.48"/><circle cx="492.0" cy="54.2" r="0.48"/><circle cx="505.5" cy="64.2" r="0.48"/><circle cx="491.0" cy="72.4" r="0.48"/><circle cx="490.2" cy="54.9" r="0.48"/><circle cx="496.5" cy="50.2" r="0.48"/><circle cx="484.1" cy="57.7" r="0.48"/><circle cx="483.8" cy="70.6" r="0.48"/><circle cx="496.2" cy="55.2" r="0.48"/><circle cx="474.3" cy="49.7" r="0.48"/><circle cx="485.7" cy="56.5" r="0.48"/><circle cx="492.3" cy="68.1" r="0.48"/><circle cx="507.1" cy="53.8" r="0.48"/><circle cx="487.2" cy="58.8" r="0.48"/><circle cx="508.4" cy="48.5" r="0.48"/><circle cx="490.6" cy="65.8" r="0.48"/><circle cx="477.0" cy="47.6" r="0.48"/><circle cx="490.0" cy="40.0" r="0.48"/><circle cx="504.5" cy="61.2" r="0.48"/><circle cx="504.2" cy="51.4" r="0.48"/><circle cx="476.4" cy="46.6" r="0.48"/><circle cx="489.9" cy="54.4" r="0.48"/><circle cx="477.6" cy="42.7" r="0.48"/><circle cx="494.4" cy="58.0" r="0.48"/><circle cx="483.9" cy="72.3" r="0.48"/><circle cx="486.1" cy="64.7" r="0.48"/><circle cx="482.2" cy="61.2" r="0.48"/><circle cx="470.6" cy="47.1" r="0.48"/><circle cx="502.5" cy="57.4" r="0.48"/><circle cx="495.9" cy="43.2" r="0.48"/><circle cx="489.4" cy="56.2" r="0.48"/><circle cx="480.6" cy="59.6" r="0.48"/><circle cx="490.7" cy="72.4" r="0.48"/><circle cx="492.3" cy="51.0" r="0.48"/><circle cx="475.1" cy="41.7" r="0.48"/><circle cx="499.4" cy="39.9" r="0.48"/><circle cx="474.3" cy="42.2" r="0.48"/><circle cx="490.4" cy="66.0" r="0.48"/><circle cx="493.8" cy="65.4" r="0.48"/><circle cx="499.8" cy="47.8" r="0.48"/><circle cx="497.7" cy="48.9" r="0.48"/><circle cx="476.9" cy="45.7" r="0.48"/><circle cx="474.3" cy="69.0" r="0.48"/><circle cx="492.6" cy="48.7" r="0.48"/><circle cx="487.6" cy="50.1" r="0.48"/><circle cx="472.6" cy="68.5" r="0.48"/><circle cx="492.6" cy="71.0" r="0.48"/><circle cx="487.2" cy="58.6" r="0.48"/><circle cx="480.0" cy="37.6" r="0.48"/><circle cx="482.5" cy="68.8" r="0.48"/><circle cx="501.5" cy="47.1" r="0.48"/><circle cx="493.4" cy="71.0" r="0.48"/><circle cx="489.3" cy="70.7" r="0.48"/><circle cx="479.7" cy="50.2" r="0.48"/><circle cx="497.8" cy="44.1" r="0.48"/><circle cx="482.2" cy="67.9" r="0.48"/><circle cx="488.9" cy="64.9" r="0.48"/><circle cx="479.7" cy="42.3" r="0.48"/><circle cx="484.1" cy="42.8" r="0.48"/><circle cx="507.4" cy="46.6" r="0.48"/><circle cx="491.8" cy="40.2" r="0.48"/><circle cx="490.8" cy="50.1" r="0.48"/><circle cx="485.8" cy="38.4" r="0.48"/><circle cx="475.2" cy="66.1" r="0.48"/><circle cx="483.8" cy="44.9" r="0.48"/><circle cx="477.8" cy="46.4" r="0.48"/><circle cx="479.5" cy="37.3" r="0.48"/><circle cx="495.7" cy="48.5" r="0.48"/><circle cx="476.4" cy="61.8" r="0.48"/><circle cx="474.0" cy="45.8" r="0.48"/><circle cx="487.3" cy="66.5" r="0.48"/><circle cx="501.1" cy="41.8" r="0.48"/><circle cx="483.9" cy="62.4" r="0.48"/><circle cx="484.8" cy="71.0" r="0.48"/><circle cx="478.4" cy="70.7" r="0.48"/><circle cx="489.7" cy="44.3" r="0.48"/><circle cx="487.7" cy="40.8" r="0.48"/><circle cx="497.3" cy="45.5" r="0.48"/><circle cx="504.7" cy="57.4" r="0.48"/><circle cx="484.5" cy="45.0" r="0.48"/><circle cx="493.6" cy="43.8" r="0.48"/><circle cx="490.0" cy="55.8" r="0.48"/><circle cx="480.8" cy="64.2" r="0.48"/><circle cx="485.1" cy="60.0" r="0.48"/><circle cx="492.1" cy="47.3" r="0.48"/><circle cx="485.3" cy="39.1" r="0.48"/><circle cx="477.2" cy="67.1" r="0.48"/><circle cx="482.7" cy="60.2" r="0.48"/><circle cx="474.6" cy="56.5" r="0.48"/><circle cx="484.2" cy="54.3" r="0.48"/><circle cx="481.8" cy="38.4" r="0.48"/><circle cx="482.3" cy="44.3" r="0.48"/><circle cx="475.3" cy="62.2" r="0.48"/><circle cx="481.2" cy="50.7" r="0.48"/><circle cx="505.0" cy="64.3" r="0.48"/><circle cx="475.5" cy="46.1" r="0.48"/><circle cx="471.6" cy="60.8" r="0.48"/><circle cx="495.7" cy="48.8" r="0.48"/><circle cx="486.2" cy="60.1" r="0.48"/><circle cx="497.1" cy="45.1" r="0.48"/><circle cx="502.7" cy="48.9" r="0.48"/><circle cx="494.4" cy="42.6" r="0.48"/><circle cx="474.9" cy="69.3" r="0.48"/><circle cx="498.4" cy="62.0" r="0.48"/><circle cx="476.7" cy="43.2" r="0.48"/><circle cx="482.0" cy="49.9" r="0.48"/><circle cx="472.0" cy="47.3" r="0.48"/><circle cx="494.8" cy="42.6" r="0.48"/><circle cx="502.4" cy="56.8" r="0.48"/><circle cx="497.7" cy="45.3" r="0.48"/><circle cx="487.0" cy="61.0" r="0.48"/><circle cx="483.8" cy="36.0" r="0.48"/><circle cx="502.2" cy="64.3" r="0.48"/><circle cx="481.4" cy="37.6" r="0.48"/><circle cx="503.0" cy="58.2" r="0.48"/><circle cx="472.3" cy="44.9" r="0.48"/><circle cx="474.7" cy="64.9" r="0.48"/><circle cx="478.5" cy="69.4" r="0.48"/><circle cx="496.9" cy="50.4" r="0.48"/><circle cx="498.9" cy="66.2" r="0.48"/><circle cx="481.2" cy="39.3" r="0.48"/><circle cx="506.5" cy="51.5" r="0.48"/><circle cx="505.8" cy="61.2" r="0.48"/><circle cx="498.6" cy="66.3" r="0.48"/><circle cx="494.4" cy="52.5" r="0.48"/><circle cx="472.6" cy="61.5" r="0.48"/><circle cx="486.8" cy="54.7" r="0.48"/><circle cx="497.2" cy="65.4" r="0.48"/><circle cx="480.4" cy="55.9" r="0.48"/><circle cx="507.3" cy="59.3" r="0.48"/><circle cx="491.2" cy="45.1" r="0.48"/><circle cx="472.8" cy="49.1" r="0.48"/><circle cx="486.1" cy="43.4" r="0.48"/><circle cx="482.3" cy="41.0" r="0.48"/><circle cx="497.4" cy="60.5" r="0.48"/><circle cx="479.5" cy="44.8" r="0.48"/><circle cx="490.1" cy="52.2" r="0.48"/><circle cx="506.1" cy="48.8" r="0.48"/><circle cx="481.9" cy="68.3" r="0.48"/><circle cx="475.9" cy="56.6" r="0.48"/><circle cx="483.2" cy="65.8" r="0.48"/><circle cx="491.3" cy="63.8" r="0.48"/><circle cx="476.9" cy="60.3" r="0.48"/><circle cx="493.2" cy="52.8" r="0.48"/><circle cx="499.6" cy="66.3" r="0.48"/><circle cx="474.9" cy="46.6" r="0.48"/><circle cx="484.2" cy="43.5" r="0.48"/><circle cx="472.8" cy="46.3" r="0.48"/><circle cx="478.0" cy="61.6" r="0.48"/><circle cx="487.5" cy="40.1" r="0.48"/><circle cx="482.8" cy="53.1" r="0.48"/><circle cx="484.3" cy="42.1" r="0.48"/><circle cx="508.2" cy="63.4" r="0.48"/><circle cx="473.7" cy="62.2" r="0.48"/><circle cx="507.7" cy="56.6" r="0.48"/><circle cx="474.6" cy="53.8" r="0.48"/><circle cx="487.0" cy="42.9" r="0.48"/><circle cx="505.4" cy="59.5" r="0.48"/><circle cx="494.4" cy="70.1" r="0.48"/><circle cx="495.3" cy="45.2" r="0.48"/><circle cx="479.8" cy="41.1" r="0.48"/><circle cx="471.6" cy="64.3" r="0.48"/><circle cx="502.4" cy="46.8" r="0.48"/><circle cx="477.6" cy="59.3" r="0.48"/><circle cx="476.9" cy="64.6" r="0.48"/><circle cx="502.1" cy="63.1" r="0.48"/><circle cx="482.9" cy="42.7" r="0.48"/><circle cx="501.9" cy="47.7" r="0.48"/><circle cx="484.5" cy="56.1" r="0.48"/><circle cx="484.5" cy="66.3" r="0.48"/><circle cx="479.6" cy="37.5" r="0.48"/><circle cx="492.0" cy="58.9" r="0.48"/><circle cx="501.6" cy="61.8" r="0.48"/><circle cx="489.3" cy="54.2" r="0.48"/><circle cx="476.5" cy="46.9" r="0.48"/><circle cx="492.6" cy="38.9" r="0.48"/><circle cx="496.6" cy="42.0" r="0.48"/><circle cx="487.3" cy="71.4" r="0.48"/><circle cx="487.2" cy="43.0" r="0.48"/><circle cx="502.5" cy="67.2" r="0.48"/><circle cx="500.4" cy="51.5" r="0.48"/><circle cx="481.3" cy="60.1" r="0.48"/><circle cx="490.1" cy="51.4" r="0.48"/><circle cx="483.4" cy="52.0" r="0.48"/><circle cx="495.8" cy="66.2" r="0.48"/><circle cx="504.9" cy="42.0" r="0.48"/><circle cx="481.7" cy="52.2" r="0.48"/><circle cx="491.9" cy="48.7" r="0.48"/><circle cx="477.9" cy="39.1" r="0.48"/><circle cx="482.8" cy="52.8" r="0.48"/><circle cx="507.0" cy="58.6" r="0.48"/><circle cx="496.2" cy="58.2" r="0.48"/><circle cx="481.8" cy="56.8" r="0.48"/><circle cx="506.7" cy="53.5" r="0.48"/><circle cx="495.1" cy="46.9" r="0.48"/><circle cx="483.5" cy="68.3" r="0.48"/><circle cx="496.3" cy="52.3" r="0.48"/><circle cx="473.7" cy="60.1" r="0.48"/><circle cx="484.6" cy="57.2" r="0.48"/><circle cx="486.3" cy="55.3" r="0.48"/><circle cx="492.0" cy="50.5" r="0.48"/><circle cx="474.8" cy="42.6" r="0.48"/><circle cx="504.3" cy="56.0" r="0.48"/><circle cx="474.8" cy="67.5" r="0.48"/><circle cx="480.1" cy="39.5" r="0.48"/><circle cx="490.7" cy="45.2" r="0.48"/><circle cx="489.1" cy="56.2" r="0.48"/><circle cx="479.1" cy="56.9" r="0.48"/><circle cx="474.8" cy="54.7" r="0.48"/><circle cx="492.9" cy="38.9" r="0.48"/><circle cx="486.0" cy="38.7" r="0.48"/><circle cx="487.2" cy="67.5" r="0.48"/><circle cx="491.4" cy="62.1" r="0.48"/><circle cx="499.3" cy="40.2" r="0.48"/><circle cx="508.1" cy="62.3" r="0.48"/><circle cx="474.4" cy="66.3" r="0.48"/><circle cx="485.4" cy="42.3" r="0.48"/><circle cx="507.0" cy="56.6" r="0.48"/><circle cx="499.9" cy="41.0" r="0.48"/><circle cx="479.5" cy="49.6" r="0.48"/><circle cx="471.1" cy="57.7" r="0.48"/><circle cx="478.6" cy="46.9" r="0.48"/><circle cx="497.4" cy="51.5" r="0.48"/><circle cx="504.3" cy="58.7" r="0.48"/><circle cx="503.6" cy="56.5" r="0.48"/><circle cx="476.9" cy="63.2" r="0.48"/><circle cx="483.5" cy="63.9" r="0.48"/><circle cx="496.4" cy="66.1" r="0.48"/><circle cx="475.2" cy="49.6" r="0.48"/><circle cx="493.4" cy="39.6" r="0.48"/><circle cx="491.4" cy="65.3" r="0.48"/><circle cx="474.8" cy="69.8" r="0.48"/><circle cx="496.2" cy="45.3" r="0.48"/><circle cx="477.8" cy="52.3" r="0.48"/><circle cx="502.4" cy="57.2" r="0.48"/><circle cx="474.7" cy="65.2" r="0.48"/><circle cx="477.5" cy="56.2" r="0.48"/><circle cx="481.5" cy="61.1" r="0.48"/><circle cx="485.0" cy="41.3" r="0.48"/><circle cx="503.8" cy="55.7" r="0.48"/><circle cx="496.7" cy="65.5" r="0.48"/><circle cx="483.5" cy="41.5" r="0.48"/><circle cx="489.6" cy="67.9" r="0.48"/><circle cx="477.4" cy="65.9" r="0.48"/><circle cx="496.3" cy="50.3" r="0.48"/><circle cx="488.6" cy="41.8" r="0.48"/><circle cx="502.6" cy="50.4" r="0.48"/><circle cx="503.7" cy="58.3" r="0.48"/><circle cx="473.4" cy="48.0" r="0.48"/><circle cx="478.7" cy="68.6" r="0.48"/><circle cx="476.9" cy="49.2" r="0.48"/><circle cx="488.3" cy="57.1" r="0.48"/><circle cx="485.2" cy="48.9" r="0.48"/><circle cx="470.7" cy="57.1" r="0.48"/><circle cx="483.2" cy="36.7" r="0.48"/><circle cx="488.0" cy="72.0" r="0.48"/><circle cx="496.0" cy="46.0" r="0.48"/><circle cx="480.9" cy="54.3" r="0.48"/><circle cx="480.5" cy="56.8" r="0.48"/><circle cx="490.6" cy="70.9" r="0.48"/><circle cx="491.8" cy="64.1" r="0.48"/><circle cx="503.7" cy="64.3" r="0.48"/><circle cx="494.6" cy="59.2" r="0.48"/><circle cx="484.3" cy="46.3" r="0.48"/><circle cx="500.7" cy="67.9" r="0.48"/><circle cx="506.2" cy="60.9" r="0.48"/><circle cx="482.1" cy="63.9" r="0.48"/><circle cx="498.6" cy="54.6" r="0.48"/><circle cx="494.6" cy="48.8" r="0.48"/><circle cx="491.4" cy="50.8" r="0.48"/><circle cx="472.8" cy="48.3" r="0.48"/><circle cx="482.8" cy="72.1" r="0.48"/><circle cx="488.8" cy="49.4" r="0.48"/><circle cx="479.8" cy="44.6" r="0.48"/><circle cx="483.8" cy="41.0" r="0.48"/><circle cx="470.8" cy="67.8" r="0.48"/><circle cx="487.7" cy="52.3" r="0.48"/><circle cx="492.1" cy="47.0" r="0.48"/><circle cx="476.9" cy="38.4" r="0.48"/><circle cx="482.0" cy="47.3" r="0.48"/><circle cx="498.1" cy="56.1" r="0.48"/><circle cx="506.1" cy="48.4" r="0.48"/><circle cx="505.5" cy="57.3" r="0.48"/><circle cx="473.5" cy="42.5" r="0.48"/><circle cx="492.6" cy="72.0" r="0.48"/><circle cx="484.1" cy="64.3" r="0.48"/><circle cx="486.8" cy="67.7" r="0.48"/><circle cx="473.1" cy="53.7" r="0.48"/><circle cx="504.7" cy="46.1" r="0.48"/><circle cx="480.3" cy="36.8" r="0.48"/><circle cx="476.8" cy="45.8" r="0.48"/><circle cx="497.3" cy="44.0" r="0.48"/><circle cx="485.7" cy="43.3" r="0.48"/><circle cx="493.4" cy="67.5" r="0.48"/><circle cx="495.1" cy="43.2" r="0.48"/><circle cx="493.3" cy="38.9" r="0.48"/><circle cx="501.3" cy="68.0" r="0.48"/><circle cx="483.5" cy="41.0" r="0.48"/><circle cx="477.7" cy="55.6" r="0.48"/><circle cx="503.8" cy="59.4" r="0.48"/><circle cx="505.6" cy="43.7" r="0.48"/><circle cx="482.9" cy="63.4" r="0.48"/><circle cx="495.2" cy="50.8" r="0.48"/><circle cx="496.3" cy="48.3" r="0.48"/><circle cx="472.7" cy="51.1" r="0.48"/><circle cx="472.2" cy="58.9" r="0.48"/><circle cx="483.2" cy="54.0" r="0.48"/><circle cx="493.2" cy="45.4" r="0.48"/><circle cx="488.1" cy="36.5" r="0.48"/><circle cx="505.7" cy="56.6" r="0.48"/><circle cx="493.8" cy="62.4" r="0.48"/><circle cx="483.0" cy="39.4" r="0.48"/><circle cx="476.4" cy="41.2" r="0.48"/><circle cx="501.4" cy="51.4" r="0.48"/><circle cx="491.0" cy="57.5" r="0.48"/><circle cx="491.6" cy="60.0" r="0.48"/><circle cx="493.4" cy="48.1" r="0.48"/><circle cx="498.7" cy="45.4" r="0.48"/><circle cx="497.5" cy="63.9" r="0.48"/><circle cx="500.0" cy="47.3" r="0.48"/><circle cx="487.7" cy="46.2" r="0.48"/><circle cx="490.4" cy="70.3" r="0.48"/><circle cx="488.6" cy="59.9" r="0.48"/><circle cx="499.9" cy="49.2" r="0.48"/><circle cx="508.1" cy="44.3" r="0.48"/><circle cx="472.8" cy="54.3" r="0.48"/><circle cx="491.6" cy="42.6" r="0.48"/><circle cx="506.2" cy="49.3" r="0.48"/><circle cx="476.2" cy="42.5" r="0.48"/><circle cx="498.5" cy="69.6" r="0.48"/><circle cx="500.1" cy="44.9" r="0.48"/><circle cx="507.8" cy="54.2" r="0.48"/><circle cx="494.7" cy="48.6" r="0.48"/><circle cx="500.9" cy="52.8" r="0.48"/><circle cx="482.8" cy="69.0" r="0.48"/><circle cx="474.6" cy="62.8" r="0.48"/><circle cx="473.0" cy="59.6" r="0.48"/><circle cx="485.8" cy="67.5" r="0.48"/><circle cx="472.8" cy="56.6" r="0.48"/><circle cx="486.1" cy="69.5" r="0.48"/><circle cx="506.4" cy="58.9" r="0.48"/><circle cx="479.0" cy="45.2" r="0.48"/><circle cx="480.5" cy="51.8" r="0.48"/><circle cx="479.3" cy="43.4" r="0.48"/><circle cx="499.3" cy="59.5" r="0.48"/><circle cx="481.8" cy="72.3" r="0.48"/><circle cx="478.7" cy="56.8" r="0.48"/><circle cx="476.5" cy="67.5" r="0.48"/><circle cx="503.5" cy="45.8" r="0.48"/><circle cx="499.1" cy="66.0" r="0.48"/><circle cx="481.2" cy="48.1" r="0.48"/><circle cx="489.0" cy="68.5" r="0.48"/><circle cx="476.6" cy="60.9" r="0.48"/><circle cx="493.2" cy="52.5" r="0.48"/><circle cx="492.5" cy="68.2" r="0.48"/><circle cx="478.5" cy="68.3" r="0.48"/><circle cx="484.2" cy="64.5" r="0.48"/><circle cx="503.3" cy="42.7" r="0.48"/><circle cx="481.8" cy="36.9" r="0.48"/><circle cx="474.7" cy="71.6" r="0.48"/><circle cx="470.9" cy="69.3" r="0.48"/><circle cx="476.2" cy="62.9" r="0.48"/><circle cx="474.2" cy="42.2" r="0.48"/><circle cx="496.4" cy="39.3" r="0.48"/><circle cx="483.4" cy="69.5" r="0.48"/><circle cx="497.7" cy="68.2" r="0.48"/><circle cx="479.4" cy="64.9" r="0.48"/><circle cx="489.7" cy="44.5" r="0.48"/><circle cx="486.9" cy="39.8" r="0.48"/><circle cx="471.3" cy="72.2" r="0.48"/><circle cx="482.5" cy="68.1" r="0.48"/><circle cx="475.1" cy="53.8" r="0.48"/><circle cx="475.7" cy="51.6" r="0.48"/><circle cx="477.3" cy="61.0" r="0.48"/><circle cx="476.1" cy="62.9" r="0.48"/><circle cx="489.5" cy="40.1" r="0.48"/><circle cx="483.9" cy="54.1" r="0.48"/><circle cx="505.4" cy="48.8" r="0.48"/><circle cx="478.7" cy="71.3" r="0.48"/><circle cx="504.1" cy="62.7" r="0.48"/><circle cx="480.9" cy="42.5" r="0.48"/><circle cx="480.6" cy="38.5" r="0.48"/><circle cx="472.1" cy="54.6" r="0.48"/><circle cx="486.0" cy="56.3" r="0.48"/><circle cx="484.3" cy="36.4" r="0.48"/><circle cx="496.6" cy="59.8" r="0.48"/><circle cx="491.2" cy="56.0" r="0.48"/><circle cx="503.7" cy="62.2" r="0.48"/><circle cx="485.7" cy="47.6" r="0.48"/><circle cx="486.4" cy="71.5" r="0.48"/><circle cx="485.2" cy="50.1" r="0.48"/><circle cx="486.1" cy="41.2" r="0.48"/><circle cx="493.6" cy="69.8" r="0.48"/><circle cx="480.2" cy="58.3" r="0.48"/><circle cx="484.8" cy="44.8" r="0.48"/><circle cx="478.0" cy="40.2" r="0.48"/><circle cx="502.5" cy="64.6" r="0.48"/><circle cx="496.9" cy="47.8" r="0.48"/><circle cx="495.1" cy="56.0" r="0.48"/><circle cx="482.5" cy="71.5" r="0.48"/><circle cx="470.5" cy="63.2" r="0.48"/><circle cx="502.9" cy="54.6" r="0.48"/><circle cx="493.0" cy="72.3" r="0.48"/><circle cx="479.4" cy="59.0" r="0.48"/><circle cx="498.7" cy="49.8" r="0.48"/><circle cx="497.6" cy="50.4" r="0.48"/><circle cx="490.5" cy="58.4" r="0.48"/><circle cx="496.2" cy="47.8" r="0.48"/><circle cx="494.4" cy="55.8" r="0.48"/><circle cx="479.0" cy="58.4" r="0.48"/><circle cx="480.6" cy="69.2" r="0.48"/><circle cx="488.5" cy="62.3" r="0.48"/><circle cx="490.3" cy="53.4" r="0.48"/><circle cx="478.9" cy="41.2" r="0.48"/><circle cx="505.7" cy="55.3" r="0.48"/><circle cx="490.4" cy="55.3" r="0.48"/><circle cx="501.4" cy="44.7" r="0.48"/><circle cx="477.0" cy="66.0" r="0.48"/><circle cx="488.0" cy="59.4" r="0.48"/><circle cx="485.0" cy="66.4" r="0.48"/><circle cx="501.6" cy="40.5" r="0.48"/><circle cx="476.3" cy="45.2" r="0.48"/><circle cx="474.4" cy="49.0" r="0.48"/><circle cx="501.0" cy="55.0" r="0.48"/><circle cx="487.7" cy="39.2" r="0.48"/><circle cx="485.5" cy="72.4" r="0.48"/><circle cx="496.9" cy="52.4" r="0.48"/><circle cx="488.7" cy="65.1" r="0.48"/><circle cx="499.3" cy="41.5" r="0.48"/><circle cx="496.3" cy="49.4" r="0.48"/><circle cx="490.3" cy="44.7" r="0.48"/><circle cx="484.6" cy="48.4" r="0.48"/><circle cx="485.0" cy="36.6" r="0.48"/><circle cx="478.1" cy="56.8" r="0.48"/><circle cx="497.8" cy="46.0" r="0.48"/><circle cx="482.8" cy="44.8" r="0.48"/><circle cx="494.7" cy="67.3" r="0.48"/><circle cx="478.2" cy="51.4" r="0.48"/><circle cx="500.6" cy="58.6" r="0.48"/><circle cx="484.6" cy="37.6" r="0.48"/><circle cx="487.3" cy="49.4" r="0.48"/><circle cx="497.6" cy="46.8" r="0.48"/><circle cx="486.0" cy="59.7" r="0.48"/><circle cx="501.3" cy="48.9" r="0.48"/><circle cx="485.1" cy="57.1" r="0.48"/><circle cx="505.6" cy="43.0" r="0.48"/><circle cx="507.4" cy="62.0" r="0.48"/><circle cx="484.6" cy="60.3" r="0.48"/><circle cx="483.0" cy="38.6" r="0.48"/><circle cx="499.2" cy="49.8" r="0.48"/><circle cx="490.5" cy="54.1" r="0.48"/><circle cx="504.7" cy="63.6" r="0.48"/><circle cx="471.5" cy="57.6" r="0.48"/><circle cx="488.1" cy="52.9" r="0.48"/><circle cx="502.4" cy="51.1" r="0.48"/><circle cx="488.5" cy="68.5" r="0.48"/><circle cx="487.2" cy="53.9" r="0.48"/><circle cx="489.9" cy="66.1" r="0.48"/><circle cx="496.0" cy="63.0" r="0.48"/><circle cx="485.8" cy="37.5" r="0.48"/><circle cx="496.3" cy="56.2" r="0.48"/><circle cx="499.7" cy="64.1" r="0.48"/><circle cx="475.0" cy="44.1" r="0.48"/><circle cx="473.4" cy="65.8" r="0.48"/><circle cx="499.1" cy="56.6" r="0.48"/><circle cx="472.6" cy="60.9" r="0.48"/><circle cx="497.5" cy="53.6" r="0.48"/><circle cx="472.6" cy="61.2" r="0.48"/><circle cx="486.4" cy="57.3" r="0.48"/><circle cx="503.6" cy="41.3" r="0.48"/><circle cx="483.2" cy="54.9" r="0.48"/><circle cx="470.7" cy="72.1" r="0.48"/><circle cx="480.9" cy="45.6" r="0.48"/><circle cx="482.4" cy="45.3" r="0.48"/><circle cx="503.1" cy="56.3" r="0.48"/><circle cx="489.9" cy="51.3" r="0.48"/><circle cx="472.4" cy="47.1" r="0.48"/><circle cx="503.4" cy="65.3" r="0.48"/><circle cx="503.1" cy="45.4" r="0.48"/><circle cx="478.2" cy="37.9" r="0.48"/><circle cx="490.9" cy="49.6" r="0.48"/><circle cx="488.1" cy="53.8" r="0.48"/><circle cx="492.7" cy="49.3" r="0.48"/><circle cx="501.0" cy="43.3" r="0.48"/><circle cx="505.4" cy="56.3" r="0.48"/><circle cx="472.4" cy="47.5" r="0.48"/><circle cx="490.8" cy="50.9" r="0.48"/><circle cx="492.0" cy="47.8" r="0.48"/><circle cx="480.9" cy="65.1" r="0.48"/><circle cx="481.6" cy="61.9" r="0.48"/><circle cx="501.0" cy="57.6" r="0.48"/><circle cx="487.8" cy="70.1" r="0.48"/><circle cx="487.4" cy="68.0" r="0.48"/><circle cx="472.7" cy="51.8" r="0.48"/><circle cx="493.2" cy="42.6" r="0.48"/><circle cx="505.6" cy="56.5" r="0.48"/><circle cx="500.9" cy="54.2" r="0.48"/><circle cx="496.1" cy="60.6" r="0.48"/><circle cx="481.7" cy="43.7" r="0.48"/><circle cx="502.4" cy="41.3" r="0.48"/><circle cx="505.4" cy="43.6" r="0.48"/><circle cx="486.3" cy="60.0" r="0.48"/><circle cx="480.3" cy="69.1" r="0.48"/><circle cx="496.6" cy="41.7" r="0.48"/><circle cx="472.7" cy="61.4" r="0.48"/><circle cx="472.1" cy="66.5" r="0.48"/><circle cx="481.7" cy="44.5" r="0.48"/><circle cx="492.6" cy="47.6" r="0.48"/><circle cx="491.8" cy="41.6" r="0.48"/><circle cx="505.2" cy="47.8" r="0.48"/><circle cx="502.5" cy="41.5" r="0.48"/><circle cx="485.4" cy="37.2" r="0.48"/><circle cx="484.9" cy="59.4" r="0.48"/><circle cx="479.0" cy="55.9" r="0.48"/><circle cx="474.1" cy="53.0" r="0.48"/><circle cx="498.2" cy="51.7" r="0.48"/><circle cx="496.3" cy="40.2" r="0.48"/><circle cx="506.2" cy="55.2" r="0.48"/><circle cx="481.5" cy="48.7" r="0.48"/><circle cx="499.0" cy="54.1" r="0.48"/><circle cx="488.9" cy="67.5" r="0.48"/><circle cx="493.2" cy="55.7" r="0.48"/><circle cx="480.8" cy="68.6" r="0.48"/><circle cx="502.6" cy="44.3" r="0.48"/><circle cx="493.3" cy="71.3" r="0.48"/><circle cx="483.6" cy="70.5" r="0.48"/><circle cx="483.2" cy="52.4" r="0.48"/><circle cx="479.9" cy="63.1" r="0.48"/><circle cx="477.3" cy="64.8" r="0.48"/><circle cx="481.8" cy="38.5" r="0.48"/><circle cx="491.7" cy="39.5" r="0.48"/><circle cx="491.5" cy="64.8" r="0.48"/><circle cx="493.1" cy="52.8" r="0.48"/><circle cx="471.8" cy="54.7" r="0.48"/><circle cx="474.2" cy="59.6" r="0.48"/><circle cx="475.5" cy="57.1" r="0.48"/><circle cx="483.9" cy="49.7" r="0.48"/><circle cx="495.7" cy="42.0" r="0.48"/><circle cx="476.9" cy="70.4" r="0.48"/><circle cx="483.1" cy="66.7" r="0.48"/><circle cx="503.7" cy="53.5" r="0.48"/><circle cx="476.2" cy="39.4" r="0.48"/><circle cx="489.4" cy="55.6" r="0.48"/><circle cx="475.0" cy="53.1" r="0.48"/><circle cx="476.7" cy="55.5" r="0.48"/><circle cx="489.8" cy="49.4" r="0.48"/><circle cx="478.0" cy="50.7" r="0.48"/><circle cx="478.2" cy="40.6" r="0.48"/><circle cx="479.6" cy="67.8" r="0.48"/><circle cx="489.6" cy="68.5" r="0.48"/><circle cx="471.1" cy="70.4" r="0.48"/><circle cx="489.1" cy="64.9" r="0.48"/><circle cx="492.2" cy="61.1" r="0.48"/><circle cx="479.2" cy="63.4" r="0.48"/><circle cx="476.3" cy="45.6" r="0.48"/><circle cx="471.7" cy="50.4" r="0.48"/><circle cx="490.2" cy="46.7" r="0.48"/><circle cx="492.5" cy="44.5" r="0.48"/><circle cx="493.1" cy="64.6" r="0.48"/><circle cx="479.8" cy="57.9" r="0.48"/><circle cx="494.0" cy="61.3" r="0.48"/><circle cx="501.5" cy="48.5" r="0.48"/><circle cx="501.3" cy="52.9" r="0.48"/><circle cx="506.2" cy="51.0" r="0.48"/><circle cx="486.0" cy="39.2" r="0.48"/><circle cx="479.8" cy="62.8" r="0.48"/><circle cx="496.3" cy="41.5" r="0.48"/><circle cx="483.6" cy="41.1" r="0.48"/><circle cx="478.0" cy="44.0" r="0.48"/><circle cx="483.1" cy="71.6" r="0.48"/><circle cx="488.7" cy="54.2" r="0.48"/><circle cx="499.1" cy="59.2" r="0.48"/></g>
<g fill="#2233ff"><circle cx="490.0" cy="60.6" r="0.48"/><circle cx="498.0" cy="57.0" r="0.48"/><circle cx="482.9" cy="53.9" r="0.48"/><circle cx="499.1" cy="47.4" r="0.48"/><circle cx="485.9" cy="45.7" r="0.48"/><circle cx="498.3" cy="42.6" r="0.48"/><circle cx="477.9" cy="45.4" r="0.48"/><circle cx="491.2" cy="45.1" r="0.48"/><circle cx="496.8" cy="47.6" r="0.48"/><circle cx="490.2" cy="48.7" r="0.48"/><circle cx="501.5" cy="47.2" r="0.48"/><circle cx="485.8" cy="65.3" r="0.48"/><circle cx="486.7" cy="55.3" r="0.48"/><circle cx="479.6" cy="51.5" r="0.48"/><circle cx="480.4" cy="38.4" r="0.48"/><circle cx="473.7" cy="58.8" r="0.48"/><circle cx="489.7" cy="38.3" r="0.48"/><circle cx="501.7" cy="44.6" r="0.48"/><circle cx="482.8" cy="51.9" r="0.48"/><circle cx="479.5" cy="59.1" r="0.48"/><circle cx="496.4" cy="50.3" r="0.48"/><circle cx="490.3" cy="50.4" r="0.48"/><circle cx="489.6" cy="42.3" r="0.48"/><circle cx="478.1" cy="44.6" r="0.48"/><circle cx="482.8" cy="54.8" r="0.48"/><circle cx="475.5" cy="62.3" r="0.48"/><circle cx="480.5" cy="45.5" r="0.48"/><circle cx="492.1" cy="53.3" r="0.48"/><circle cx="483.1" cy="41.8" r="0.48"/><circle cx="477.3" cy="37.7" r="0.48"/><circle cx="495.9" cy="58.3" r="0.48"/><circle cx="502.2" cy="53.8" r="0.48"/><circle cx="488.9" cy="55.8" r="0.48"/><circle cx="494.2" cy="48.0" r="0.48"/><circle cx="489.1" cy="66.6" r="0.48"/><circle cx="477.7" cy="55.8" r="0.48"/><circle cx="496.3" cy="47.4" r="0.48"/><circle cx="491.8" cy="49.6" r="0.48"/><circle cx="488.6" cy="45.8" r="0.48"/><circle cx="485.8" cy="50.0" r="0.48"/><circle cx="495.8" cy="67.2" r="0.48"/><circle cx="486.0" cy="57.5" r="0.48"/><circle cx="495.2" cy="56.0" r="0.48"/><circle cx="493.0" cy="42.7" r="0.48"/><circle cx="471.2" cy="62.9" r="0.48"/><circle cx="496.5" cy="42.7" r="0.48"/><circle cx="497.2" cy="55.1" r="0.48"/><circle cx="477.4" cy="59.0" r="0.48"/><circle cx="480.1" cy="44.3" r="0.48"/><circle cx="472.6" cy="48.3" r="0.48"/><circle cx="494.8" cy="44.8" r="0.48"/><circle cx="502.0" cy="55.3" r="0.48"/><circle cx="481.3" cy="40.7" r="0.48"/><circle cx="471.8" cy="54.3" r="0.48"/><circle cx="497.3" cy="41.8" r="0.48"/><circle cx="486.0" cy="47.9" r="0.48"/><circle cx="483.8" cy="53.9" r="0.48"/><circle cx="504.1" cy="45.1" r="0.48"/><circle cx="493.4" cy="58.4" r="0.48"/><circle cx="483.5" cy="48.9" r="0.48"/><circle cx="474.4" cy="58.3" r="0.48"/><circle cx="481.4" cy="45.0" r="0.48"/><circle cx="486.6" cy="43.4" r="0.48"/><circle cx="477.0" cy="47.7" r="0.48"/><circle cx="498.9" cy="48.4" r="0.48"/><circle cx="490.6" cy="38.7" r="0.48"/><circle cx="482.5" cy="38.1" r="0.48"/><circle cx="485.1" cy="54.7" r="0.48"/><circle cx="488.3" cy="42.9" r="0.48"/><circle cx="492.9" cy="57.4" r="0.48"/><circle cx="489.8" cy="46.7" r="0.48"/><circle cx="485.6" cy="45.1" r="0.48"/><circle cx="484.9" cy="52.5" r="0.48"/><circle cx="483.4" cy="57.5" r="0.48"/><circle cx="489.0" cy="56.4" r="0.48"/><circle cx="491.6" cy="48.2" r="0.48"/><circle cx="481.8" cy="57.8" r="0.48"/><circle cx="491.4" cy="53.9" r="0.48"/><circle cx="479.0" cy="54.9" r="0.48"/><circle cx="492.9" cy="48.6" r="0.48"/><circle cx="491.6" cy="66.8" r="0.48"/><circle cx="475.8" cy="39.5" r="0.48"/><circle cx="484.0" cy="54.2" r="0.48"/><circle cx="486.5" cy="41.0" r="0.48"/><circle cx="473.5" cy="45.7" r="0.48"/><circle cx="486.1" cy="43.6" r="0.48"/><circle cx="472.9" cy="63.6" r="0.48"/><circle cx="478.7" cy="48.8" r="0.48"/><circle cx="481.2" cy="45.5" r="0.48"/><circle cx="486.3" cy="47.7" r="0.48"/><circle cx="491.4" cy="40.8" r="0.48"/><circle cx="473.1" cy="65.1" r="0.48"/><circle cx="485.3" cy="55.9" r="0.48"/><circle cx="496.3" cy="54.3" r="0.48"/><circle cx="486.3" cy="38.0" r="0.48"/><circle cx="472.1" cy="57.6" r="0.48"/><circle cx="491.9" cy="54.4" r="0.48"/><circle cx="476.8" cy="40.8" r="0.48"/><circle cx="487.4" cy="42.1" r="0.48"/><circle cx="499.8" cy="45.2" r="0.48"/><circle cx="481.1" cy="56.7" r="0.48"/><circle cx="488.9" cy="43.0" r="0.48"/><circle cx="493.2" cy="64.9" r="0.48"/><circle cx="475.3" cy="48.1" r="0.48"/><circle cx="491.5" cy="55.4" r="0.48"/><circle cx="494.5" cy="53.3" r="0.48"/><circle cx="480.2" cy="40.9" r="0.48"/><circle cx="476.3" cy="55.9" r="0.48"/><circle cx="483.4" cy="65.3" r="0.48"/><circle cx="493.8" cy="59.7" r="0.48"/><circle cx="486.3" cy="40.6" r="0.48"/><circle cx="495.5" cy="59.2" r="0.48"/><circle cx="482.5" cy="39.4" r="0.48"/><circle cx="485.5" cy="52.9" r="0.48"/><circle cx="485.1" cy="55.5" r="0.48"/><circle cx="486.7" cy="53.5" r="0.48"/><circle cx="488.7" cy="42.8" r="0.48"/><circle cx="484.9" cy="47.1" r="0.48"/><circle cx="490.2" cy="44.0" r="0.48"/><circle cx="498.7" cy="50.2" r="0.48"/><circle cx="490.6" cy="54.9" r="0.48"/><circle cx="495.1" cy="53.2" r="0.48"/><circle cx="502.4" cy="53.7" r="0.48"/><circle cx="490.9" cy="53.7" r="0.48"/><circle cx="480.4" cy="44.7" r="0.48"/><circle cx="480.3" cy="59.1" r="0.48"/><circle cx="489.2" cy="63.9" r="0.48"/><circle cx="490.4" cy="64.8" r="0.48"/><circle cx="490.0" cy="40.7" r="0.48"/><circle cx="501.3" cy="52.6" r="0.48"/><circle cx="496.5" cy="51.7" r="0.48"/><circle cx="483.1" cy="51.3" r="0.48"/><circle cx="476.1" cy="40.6" r="0.48"/><circle cx="478.2" cy="45.9" r="0.48"/><circle cx="474.0" cy="49.2" r="0.48"/><circle cx="488.7" cy="65.9" r="0.48"/><circle cx="502.2" cy="49.6" r="0.48"/><circle cx="493.8" cy="48.3" r="0.48"/><circle cx="489.5" cy="49.7" r="0.48"/><circle cx="481.2" cy="50.6" r="0.48"/><circle cx="472.9" cy="53.5" r="0.48"/><circle cx="483.4" cy="41.5" r="0.48"/><circle cx="482.8" cy="54.4" r="0.48"/><circle cx="480.0" cy="53.7" r="0.48"/><circle cx="491.0" cy="62.3" r="0.48"/><circle cx="476.4" cy="49.1" r="0.48"/><circle cx="490.5" cy="61.8" r="0.48"/><circle cx="488.3" cy="55.9" r="0.48"/><circle cx="473.0" cy="45.4" r="0.48"/><circle cx="500.7" cy="47.8" r="0.48"/><circle cx="505.2" cy="44.3" r="0.48"/><circle cx="483.5" cy="37.4" r="0.48"/><circle cx="491.6" cy="52.1" r="0.48"/><circle cx="503.9" cy="51.3" r="0.48"/><circle cx="483.8" cy="38.9" r="0.48"/><circle cx="485.3" cy="57.5" r="0.48"/><circle cx="492.6" cy="59.7" r="0.48"/><circle cx="493.7" cy="49.6" r="0.48"/><circle cx="491.4" cy="51.4" r="0.48"/><circle cx="474.2" cy="63.5" r="0.48"/><circle cx="489.3" cy="41.7" r="0.48"/><circle cx="489.4" cy="52.3" r="0.48"/><circle cx="494.9" cy="61.4" r="0.48"/><circle cx="499.6" cy="42.5" r="0.48"/><circle cx="489.0" cy="52.8" r="0.48"/><circle cx="476.1" cy="46.3" r="0.48"/><circle cx="487.7" cy="55.9" r="0.48"/><circle cx="505.5" cy="52.3" r="0.48"/><circle cx="495.6" cy="49.0" r="0.48"/><circle cx="485.0" cy="42.2" r="0.48"/><circle cx="487.0" cy="51.0" r="0.48"/><circle cx="488.7" cy="60.3" r="0.48"/><circle cx="485.1" cy="50.7" r="0.48"/><circle cx="483.4" cy="50.5" r="0.48"/><circle cx="494.5" cy="43.6" r="0.48"/><circle cx="493.2" cy="53.1" r="0.48"/><circle cx="473.2" cy="51.1" r="0.48"/><circle cx="487.8" cy="55.7" r="0.48"/><circle cx="493.3" cy="45.6" r="0.48"/><circle cx="495.6" cy="56.5" r="0.48"/><circle cx="490.2" cy="53.8" r="0.48"/><circle cx="474.5" cy="52.9" r="0.48"/><circle cx="476.8" cy="40.5" r="0.48"/><circle cx="482.9" cy="51.1" r="0.48"/><circle cx="485.5" cy="47.4" r="0.48"/><circle cx="477.1" cy="51.5" r="0.48"/><circle cx="479.4" cy="38.8" r="0.48"/><circle cx="486.8" cy="61.6" r="0.48"/><circle cx="482.4" cy="41.6" r="0.48"/><circle cx="498.4" cy="63.6" r="0.48"/><circle cx="483.4" cy="48.3" r="0.48"/><circle cx="487.2" cy="57.9" r="0.48"/><circle cx="476.1" cy="40.2" r="0.48"/><circle cx="489.9" cy="50.8" r="0.48"/><circle cx="502.0" cy="47.8" r="0.48"/><circle cx="488.8" cy="50.6" r="0.48"/><circle cx="487.2" cy="68.5" r="0.48"/><circle cx="488.6" cy="61.7" r="0.48"/><circle cx="497.6" cy="45.2" r="0.48"/><circle cx="492.1" cy="47.0" r="0.48"/><circle cx="487.0" cy="51.3" r="0.48"/><circle cx="486.2" cy="46.3" r="0.48"/><circle cx="500.0" cy="47.9" r="0.48"/><circle cx="492.3" cy="63.4" r="0.48"/><circle cx="491.6" cy="58.2" r="0.48"/><circle cx="498.5" cy="58.7" r="0.48"/><circle cx="503.6" cy="50.2" r="0.48"/><circle cx="473.5" cy="49.8" r="0.48"/><circle cx="488.7" cy="51.3" r="0.48"/><circle cx="478.8" cy="48.1" r="0.48"/><circle cx="485.1" cy="50.6" r="0.48"/><circle cx="485.9" cy="48.2" r="0.48"/><circle cx="481.6" cy="51.1" r="0.48"/><circle cx="482.4" cy="45.6" r="0.48"/><circle cx="482.1" cy="51.7" r="0.48"/><circle cx="497.2" cy="48.5" r="0.48"/><circle cx="483.6" cy="52.8" r="0.48"/><circle cx="488.4" cy="47.0" r="0.48"/><circle cx="480.9" cy="55.0" r="0.48"/><circle cx="486.4" cy="45.5" r="0.48"/><circle cx="486.1" cy="49.1" r="0.48"/><circle cx="489.9" cy="51.8" r="0.48"/><circle cx="481.7" cy="39.9" r="0.48"/><circle cx="476.2" cy="48.9" r="0.48"/><circle cx="475.7" cy="56.0" r="0.48"/><circle cx="500.6" cy="42.1" r="0.48"/><circle cx="485.5" cy="48.0" r="0.48"/><circle cx="495.2" cy="67.3" r="0.48"/><circle cx="472.8" cy="54.5" r="0.48"/><circle cx="485.9" cy="56.8" r="0.48"/><circle cx="481.4" cy="55.8" r="0.48"/><circle cx="494.1" cy="54.9" r="0.48"/><circle cx="499.0" cy="48.6" r="0.48"/><circle cx="499.9" cy="44.4" r="0.48"/><circle cx="486.1" cy="43.6" r="0.48"/><circle cx="486.0" cy="58.2" r="0.48"/><circle cx="492.5" cy="50.8" r="0.48"/><circle cx="478.7" cy="62.1" r="0.48"/><circle cx="489.1" cy="40.5" r="0.48"/><circle cx="499.3" cy="59.2" r="0.48"/><circle cx="481.1" cy="60.3" r="0.48"/><circle cx="478.5" cy="57.4" r="0.48"/><circle cx="491.2" cy="49.0" r="0.48"/><circle cx="473.2" cy="47.8" r="0.48"/><circle cx="491.3" cy="53.0" r="0.48"/><circle cx="481.4" cy="66.9" r="0.48"/><circle cx="493.0" cy="50.5" r="0.48"/><circle cx="490.3" cy="57.7" r="0.48"/><circle cx="480.7" cy="38.7" r="0.48"/><circle cx="485.6" cy="36.6" r="0.48"/><circle cx="486.1" cy="56.2" r="0.48"/><circle cx="499.6" cy="52.1" r="0.48"/><circle cx="487.8" cy="56.0" r="0.48"/><circle cx="498.6" cy="47.4" r="0.48"/><circle cx="474.9" cy="43.7" r="0.48"/><circle cx="474.7" cy="42.9" r="0.48"/><circle cx="484.9" cy="52.7" r="0.48"/><circle cx="487.4" cy="50.6" r="0.48"/><circle cx="482.8" cy="53.4" r="0.48"/><circle cx="494.0" cy="56.1" r="0.48"/><circle cx="499.5" cy="47.7" r="0.48"/><circle cx="483.7" cy="63.6" r="0.48"/><circle cx="487.8" cy="53.3" r="0.48"/><circle cx="483.0" cy="57.8" r="0.48"/><circle cx="482.4" cy="41.9" r="0.48"/><circle cx="485.5" cy="46.5" r="0.48"/><circle cx="493.5" cy="47.0" r="0.48"/><circle cx="487.1" cy="48.3" r="0.48"/><circle cx="489.1" cy="45.0" r="0.48"/><circle cx="482.5" cy="44.3" r="0.48"/><circle cx="491.8" cy="50.3" r="0.48"/><circle cx="490.4" cy="47.4" r="0.48"/><circle cx="479.5" cy="41.0" r="0.48"/><circle cx="483.0" cy="45.7" r="0.48"/><circle cx="488.5" cy="52.8" r="0.48"/><circle cx="494.8" cy="49.1" r="0.48"/><circle cx="479.3" cy="41.5" r="0.48"/><circle cx="486.6" cy="52.9" r="0.48"/><circle cx="503.5" cy="51.5" r="0.48"/><circle cx="501.8" cy="65.0" r="0.48"/></g>
<g filter="url(#blur1)">
<ellipse cx="477.4" cy="60.6" rx="7.6" ry="8" fill="#1a1eff"/>
<ellipse cx="476.9" cy="61.2" rx="5.8" ry="6.2" fill="#22c0f4"/>
<ellipse cx="476.7" cy="61.3" rx="4.2" ry="4.6" fill="#58ee70"/>
<ellipse cx="476.5" cy="61.4" rx="3.1" ry="3.4" fill="#f8f020"/>
<ellipse cx="476.4" cy="61.5" rx="2.0" ry="2.2" fill="#ff2010"/>
</g>
<rect x="399.2" y="34.4" width="37.3" height="14.9" fill="none" stroke="#8a8a8a" stroke-width="0.7"/>
<line x1="420.2" y1="43.8" x2="436.5" y2="43.8" stroke="#223" stroke-width="1.1"/>
<text x="408.1" y="32.3" font-size="5.6" font-weight="bold" text-anchor="middle" textLength="11.3" lengthAdjust="spacingAndGlyphs">6.2%</text>
<text x="427.7" y="32.6" font-size="5.6" font-weight="bold" text-anchor="middle" textLength="12.4" lengthAdjust="spacingAndGlyphs">0.5%</text>
<text x="427.5" y="55.2" font-size="5.6" font-weight="bold" text-anchor="middle" textLength="15" lengthAdjust="spacingAndGlyphs">0.05%</text>
<rect x="471.5" y="35.2" width="37.6" height="14.3" fill="none" stroke="#7a7a7a" stroke-width="0.7"/>
<line x1="492.3" y1="35.2" x2="492.3" y2="49.5" stroke="#8a8a8a" stroke-width="0.6"/>
<line x1="492.3" y1="42.3" x2="509.1" y2="42.3" stroke="#223" stroke-width="1.2"/>
<text x="480.7" y="34.6" font-size="5.6" font-weight="bold" text-anchor="middle" textLength="12" lengthAdjust="spacingAndGlyphs">0.7%</text>
<text x="500.9" y="34.6" font-size="5.6" font-weight="bold" text-anchor="middle" textLength="15" lengthAdjust="spacingAndGlyphs">0.04%</text>
<text x="501.3" y="55.0" font-size="5.6" font-weight="bold" text-anchor="middle" textLength="12" lengthAdjust="spacingAndGlyphs" fill="#a030b8">0.59%</text>
<line x1="377.4" y1="53" x2="377.4" y2="89.2" stroke="#111" stroke-width="1"/>
<line x1="377.4" y1="89.2" x2="429.5" y2="89.2" stroke="#111" stroke-width="1"/>
<polygon points="377.4,50.2 375.4,54 379.4,54" fill="#111"/>
<polygon points="433,89.2 428.5,87.1 428.5,91.3" fill="#111"/>
<text x="379.8" y="47.6" font-size="7.4" font-weight="bold" textLength="17.6" lengthAdjust="spacingAndGlyphs" transform="rotate(-90 379.8 47.6)">C-Kit</text>
<text x="439.9" y="91.3" font-size="7.8" font-weight="bold" textLength="18.2" lengthAdjust="spacingAndGlyphs">Sca-1</text>
<text x="409.2" y="107" font-size="8.8" font-weight="bold" textLength="13.4" lengthAdjust="spacingAndGlyphs">WT</text>
<text x="475" y="107" font-size="8.8" font-weight="bold" textLength="21.9" lengthAdjust="spacingAndGlyphs">Pot1b</text>
<text x="497.4" y="104.2" font-size="5.6" font-weight="bold" textLength="11" lengthAdjust="spacingAndGlyphs" fill="#333">Δ/Δ</text>
<text x="1.7" y="126.7" font-size="14.5" font-weight="bold">D</text>
<line x1="41.1" y1="135.8" x2="41.1" y2="230.79999999999998" stroke="#111" stroke-width="1.2"/>
<line x1="40.5" y1="230.2" x2="143.8" y2="230.2" stroke="#111" stroke-width="1.2"/>
<text x="34.0" y="221.45" font-size="4.8" font-weight="bold" text-anchor="middle" fill="#222">1</text>
<line x1="39.6" y1="219.75" x2="41.1" y2="219.75" stroke="#222" stroke-width="0.7"/>
<text x="34.0" y="210.99999999999997" font-size="4.8" font-weight="bold" text-anchor="middle" fill="#222">2</text>
<line x1="39.6" y1="209.29999999999998" x2="41.1" y2="209.29999999999998" stroke="#222" stroke-width="0.7"/>
<text x="34.0" y="200.54999999999998" font-size="4.8" font-weight="bold" text-anchor="middle" fill="#222">3</text>
<line x1="39.6" y1="198.85" x2="41.1" y2="198.85" stroke="#222" stroke-width="0.7"/>
<text x="34.0" y="190.09999999999997" font-size="4.8" font-weight="bold" text-anchor="middle" fill="#222">4</text>
<line x1="39.6" y1="188.39999999999998" x2="41.1" y2="188.39999999999998" stroke="#222" stroke-width="0.7"/>
<text x="34.0" y="179.64999999999998" font-size="4.8" font-weight="bold" text-anchor="middle" fill="#222">5</text>
<line x1="39.6" y1="177.95" x2="41.1" y2="177.95" stroke="#222" stroke-width="0.7"/>
<text x="34.0" y="169.2" font-size="4.8" font-weight="bold" text-anchor="middle" fill="#222">6</text>
<line x1="39.6" y1="167.5" x2="41.1" y2="167.5" stroke="#222" stroke-width="0.7"/>
<text x="34.0" y="158.75" font-size="4.8" font-weight="bold" text-anchor="middle" fill="#222">7</text>
<line x1="39.6" y1="157.05" x2="41.1" y2="157.05" stroke="#222" stroke-width="0.7"/>
<text x="34.0" y="148.29999999999998" font-size="4.8" font-weight="bold" text-anchor="middle" fill="#222">8</text>
<line x1="39.6" y1="146.6" x2="41.1" y2="146.6" stroke="#222" stroke-width="0.7"/>
<text x="59.67999999999999" y="238.5" font-size="4.6" font-weight="bold" text-anchor="middle" fill="#222">1</text>
<line x1="59.67999999999999" y1="229.0" x2="59.67999999999999" y2="230.2" stroke="#222" stroke-width="0.7"/>
<text x="78.06" y="238.5" font-size="4.6" font-weight="bold" text-anchor="middle" fill="#222">2</text>
<line x1="78.06" y1="229.0" x2="78.06" y2="230.2" stroke="#222" stroke-width="0.7"/>
<text x="96.44" y="238.5" font-size="4.6" font-weight="bold" text-anchor="middle" fill="#222">3</text>
<line x1="96.44" y1="229.0" x2="96.44" y2="230.2" stroke="#222" stroke-width="0.7"/>
<text x="114.82" y="238.5" font-size="4.6" font-weight="bold" text-anchor="middle" fill="#222">4</text>
<line x1="114.82" y1="229.0" x2="114.82" y2="230.2" stroke="#222" stroke-width="0.7"/>
<text x="133.2" y="238.5" font-size="4.6" font-weight="bold" text-anchor="middle" fill="#222">5</text>
<line x1="133.2" y1="229.0" x2="133.2" y2="230.2" stroke="#222" stroke-width="0.7"/>
<line x1="41" y1="157.2" x2="142" y2="157.2" stroke="#3a3a3a" stroke-width="1.1" stroke-dasharray="2.8 2.3"/>
<polyline points="40.8,157.3 59.3,157.3 59.3,167.4 76,167.4 76,188.2 92.4,188.2 92.4,208.8 111.4,208.8 111.4,230.2" fill="none" stroke="#555" stroke-width="1.25"/>
<line x1="40.8" y1="157.3" x2="59.3" y2="157.3" stroke="#333" stroke-width="1.2"/>
<text x="26.1" y="213.6" font-size="6.4" font-weight="bold" textLength="57.2" lengthAdjust="spacingAndGlyphs" transform="rotate(-90 26.1 213.6)">Number of survival</text>
<text x="43.2" y="249.4" font-size="6.4" font-weight="bold" textLength="98.3" lengthAdjust="spacingAndGlyphs">months after first 5-FU injection</text>
<line x1="153.6" y1="159.6" x2="166.6" y2="159.6" stroke="#333" stroke-width="1.2" stroke-dasharray="2.6 2.4"/>
<text x="172" y="164.6" font-size="6.8" font-weight="bold" textLength="10.8" lengthAdjust="spacingAndGlyphs">WT</text>
<line x1="153.6" y1="175.4" x2="167.2" y2="175.4" stroke="#777" stroke-width="1.5"/>
<text x="172" y="179.2" font-size="6.8" font-weight="bold" textLength="20.7" lengthAdjust="spacingAndGlyphs">Pot1b</text>
<text x="192.5" y="177.2" font-size="4.9" font-weight="bold" textLength="8.3" lengthAdjust="spacingAndGlyphs" fill="#222">Δ/Δ</text>
<text x="145.2" y="199.0" font-size="7.0" font-weight="bold" textLength="35.5" lengthAdjust="spacingAndGlyphs">P= 2.3 x 10</text>
<text x="181.4" y="196.6" font-size="4.2" font-weight="bold" textLength="4.0" lengthAdjust="spacingAndGlyphs">-3</text>
<text x="186.6" y="199.0" font-size="7.0" font-weight="bold" textLength="16.0" lengthAdjust="spacingAndGlyphs">, n=7</text>
<text x="224.9" y="142.6" font-size="14.5" font-weight="bold">E</text>
<rect x="240.2" y="164.7" width="66.69999999999999" height="61.10000000000002" fill="none" stroke="#c4c4c4" stroke-width="0.8"/>
<text x="238.39999999999998" y="176" font-size="2.2" text-anchor="end" fill="#aaa">10</text>
<text x="238.39999999999998" y="190.6" font-size="2.2" text-anchor="end" fill="#aaa">10</text>
<text x="238.39999999999998" y="201" font-size="2.2" text-anchor="end" fill="#aaa">10</text>
<text x="238.39999999999998" y="211" font-size="2.2" text-anchor="end" fill="#aaa">10</text>
<text x="252.5" y="230.60000000000002" font-size="2.6" text-anchor="middle" fill="#888">200</text>
<text x="265.3" y="230.60000000000002" font-size="2.6" text-anchor="middle" fill="#888">400</text>
<text x="277.9" y="230.60000000000002" font-size="2.6" text-anchor="middle" fill="#888">600</text>
<text x="290.7" y="230.60000000000002" font-size="2.6" text-anchor="middle" fill="#888">800</text>
<text x="303.5" y="230.60000000000002" font-size="2.6" text-anchor="middle" fill="#888">1000</text>
<rect x="322.1" y="164.7" width="63.89999999999998" height="61.30000000000001" fill="none" stroke="#c4c4c4" stroke-width="0.8"/>
<text x="320.3" y="176" font-size="2.2" text-anchor="end" fill="#aaa">10</text>
<text x="320.3" y="190.6" font-size="2.2" text-anchor="end" fill="#aaa">10</text>
<text x="320.3" y="201" font-size="2.2" text-anchor="end" fill="#aaa">10</text>
<text x="320.3" y="211" font-size="2.2" text-anchor="end" fill="#aaa">10</text>
<text x="334.40000000000003" y="230.8" font-size="2.6" text-anchor="middle" fill="#888">200</text>
<text x="347.20000000000005" y="230.8" font-size="2.6" text-anchor="middle" fill="#888">400</text>
<text x="359.8" y="230.8" font-size="2.6" text-anchor="middle" fill="#888">600</text>
<text x="372.6" y="230.8" font-size="2.6" text-anchor="middle" fill="#888">800</text>
<text x="385.40000000000003" y="230.8" font-size="2.6" text-anchor="middle" fill="#888">1000</text>
<g fill="#8a9cf4"><circle cx="256.7" cy="192.6" r="0.45"/><circle cx="269.8" cy="193.0" r="0.45"/><circle cx="262.9" cy="192.0" r="0.45"/><circle cx="260.1" cy="189.3" r="0.45"/><circle cx="263.1" cy="194.1" r="0.45"/><circle cx="261.7" cy="192.0" r="0.45"/><circle cx="263.4" cy="187.7" r="0.45"/><circle cx="264.5" cy="191.2" r="0.45"/><circle cx="258.7" cy="191.1" r="0.45"/><circle cx="258.7" cy="187.2" r="0.45"/><circle cx="264.3" cy="188.9" r="0.45"/><circle cx="257.1" cy="185.3" r="0.45"/><circle cx="263.1" cy="190.1" r="0.45"/><circle cx="260.2" cy="190.0" r="0.45"/><circle cx="253.8" cy="190.5" r="0.45"/><circle cx="265.5" cy="190.2" r="0.45"/><circle cx="259.3" cy="189.7" r="0.45"/><circle cx="263.8" cy="192.3" r="0.45"/><circle cx="264.7" cy="190.2" r="0.45"/><circle cx="258.7" cy="191.7" r="0.45"/><circle cx="270.0" cy="188.2" r="0.45"/><circle cx="266.8" cy="190.3" r="0.45"/><circle cx="262.7" cy="186.2" r="0.45"/><circle cx="273.5" cy="184.7" r="0.45"/><circle cx="264.8" cy="188.5" r="0.45"/><circle cx="269.9" cy="188.4" r="0.45"/><circle cx="263.2" cy="191.1" r="0.45"/><circle cx="265.7" cy="188.1" r="0.45"/><circle cx="267.1" cy="190.5" r="0.45"/><circle cx="268.9" cy="188.2" r="0.45"/><circle cx="262.7" cy="188.5" r="0.45"/><circle cx="258.0" cy="190.2" r="0.45"/><circle cx="265.5" cy="193.2" r="0.45"/><circle cx="261.1" cy="190.5" r="0.45"/><circle cx="269.8" cy="189.2" r="0.45"/><circle cx="263.4" cy="189.8" r="0.45"/><circle cx="258.9" cy="186.9" r="0.45"/><circle cx="269.7" cy="189.9" r="0.45"/><circle cx="262.6" cy="186.3" r="0.45"/><circle cx="263.7" cy="192.5" r="0.45"/><circle cx="256.1" cy="187.2" r="0.45"/><circle cx="269.6" cy="193.2" r="0.45"/><circle cx="272.3" cy="188.1" r="0.45"/><circle cx="266.6" cy="187.6" r="0.45"/><circle cx="266.1" cy="188.6" r="0.45"/><circle cx="264.2" cy="193.0" r="0.45"/><circle cx="265.0" cy="188.9" r="0.45"/><circle cx="263.3" cy="190.2" r="0.45"/><circle cx="259.9" cy="190.0" r="0.45"/><circle cx="266.6" cy="193.5" r="0.45"/><circle cx="250.7" cy="186.4" r="0.45"/><circle cx="255.6" cy="191.8" r="0.45"/><circle cx="277.6" cy="190.0" r="0.45"/><circle cx="263.7" cy="192.4" r="0.45"/><circle cx="260.0" cy="188.2" r="0.45"/><circle cx="265.0" cy="188.0" r="0.45"/><circle cx="269.6" cy="189.5" r="0.45"/><circle cx="260.3" cy="191.9" r="0.45"/><circle cx="258.1" cy="192.7" r="0.45"/><circle cx="268.7" cy="189.9" r="0.45"/><circle cx="268.9" cy="193.7" r="0.45"/><circle cx="271.2" cy="189.5" r="0.45"/><circle cx="262.7" cy="192.4" r="0.45"/><circle cx="254.2" cy="187.9" r="0.45"/><circle cx="265.9" cy="191.0" r="0.45"/><circle cx="274.1" cy="194.0" r="0.45"/><circle cx="264.9" cy="190.6" r="0.45"/><circle cx="255.2" cy="189.0" r="0.45"/><circle cx="264.6" cy="188.9" r="0.45"/><circle cx="263.4" cy="191.1" r="0.45"/><circle cx="257.3" cy="188.0" r="0.45"/><circle cx="252.4" cy="192.4" r="0.45"/><circle cx="256.7" cy="185.1" r="0.45"/><circle cx="267.6" cy="188.9" r="0.45"/><circle cx="268.7" cy="188.6" r="0.45"/><circle cx="275.6" cy="191.3" r="0.45"/><circle cx="263.9" cy="189.8" r="0.45"/><circle cx="261.8" cy="191.6" r="0.45"/><circle cx="274.9" cy="188.4" r="0.45"/><circle cx="256.5" cy="191.0" r="0.45"/><circle cx="269.3" cy="185.7" r="0.45"/><circle cx="258.9" cy="186.9" r="0.45"/><circle cx="266.3" cy="190.8" r="0.45"/><circle cx="258.6" cy="186.6" r="0.45"/><circle cx="267.0" cy="184.2" r="0.45"/><circle cx="266.8" cy="189.1" r="0.45"/><circle cx="274.4" cy="192.1" r="0.45"/><circle cx="259.6" cy="188.8" r="0.45"/><circle cx="261.4" cy="187.6" r="0.45"/><circle cx="263.5" cy="192.0" r="0.45"/><circle cx="254.1" cy="188.9" r="0.45"/><circle cx="271.8" cy="191.4" r="0.45"/><circle cx="258.2" cy="187.4" r="0.45"/><circle cx="257.9" cy="185.4" r="0.45"/><circle cx="269.8" cy="189.7" r="0.45"/><circle cx="258.9" cy="185.8" r="0.45"/><circle cx="260.7" cy="188.2" r="0.45"/><circle cx="273.2" cy="188.3" r="0.45"/><circle cx="263.7" cy="192.2" r="0.45"/><circle cx="266.9" cy="189.0" r="0.45"/><circle cx="250.1" cy="193.1" r="0.45"/><circle cx="266.5" cy="188.4" r="0.45"/><circle cx="262.5" cy="187.1" r="0.45"/><circle cx="257.7" cy="185.7" r="0.45"/><circle cx="266.0" cy="190.8" r="0.45"/><circle cx="264.0" cy="191.5" r="0.45"/><circle cx="266.2" cy="189.8" r="0.45"/><circle cx="257.8" cy="191.0" r="0.45"/><circle cx="270.0" cy="191.1" r="0.45"/><circle cx="270.4" cy="188.3" r="0.45"/><circle cx="257.2" cy="192.7" r="0.45"/><circle cx="259.6" cy="190.1" r="0.45"/><circle cx="261.9" cy="189.6" r="0.45"/><circle cx="261.4" cy="188.1" r="0.45"/><circle cx="252.5" cy="194.4" r="0.45"/><circle cx="264.2" cy="184.6" r="0.45"/><circle cx="257.7" cy="186.6" r="0.45"/></g>
<g clip-path="url(#cEw)">
<g fill="#3b55ee"><circle cx="252.4" cy="211.0" r="0.45"/><circle cx="254.8" cy="221.3" r="0.45"/><circle cx="258.9" cy="215.1" r="0.45"/><circle cx="262.0" cy="213.7" r="0.45"/><circle cx="253.2" cy="217.9" r="0.45"/><circle cx="262.2" cy="219.4" r="0.45"/><circle cx="255.4" cy="216.5" r="0.45"/><circle cx="256.4" cy="219.1" r="0.45"/><circle cx="259.6" cy="223.4" r="0.45"/><circle cx="259.6" cy="219.1" r="0.45"/><circle cx="257.0" cy="218.9" r="0.45"/><circle cx="258.8" cy="218.7" r="0.45"/><circle cx="252.9" cy="222.3" r="0.45"/><circle cx="253.8" cy="222.0" r="0.45"/><circle cx="252.2" cy="219.3" r="0.45"/><circle cx="258.0" cy="219.5" r="0.45"/><circle cx="257.1" cy="220.2" r="0.45"/><circle cx="250.5" cy="215.5" r="0.45"/><circle cx="255.4" cy="216.1" r="0.45"/><circle cx="252.8" cy="219.1" r="0.45"/><circle cx="261.8" cy="217.2" r="0.45"/><circle cx="258.7" cy="219.6" r="0.45"/><circle cx="254.3" cy="216.0" r="0.45"/><circle cx="255.3" cy="216.7" r="0.45"/><circle cx="258.6" cy="213.5" r="0.45"/><circle cx="261.5" cy="221.4" r="0.45"/><circle cx="258.9" cy="213.7" r="0.45"/><circle cx="256.3" cy="220.4" r="0.45"/><circle cx="252.7" cy="215.5" r="0.45"/><circle cx="258.1" cy="220.6" r="0.45"/><circle cx="253.9" cy="218.2" r="0.45"/><circle cx="253.5" cy="217.2" r="0.45"/><circle cx="255.7" cy="222.4" r="0.45"/><circle cx="263.9" cy="220.0" r="0.45"/><circle cx="256.8" cy="221.6" r="0.45"/><circle cx="251.1" cy="215.2" r="0.45"/><circle cx="257.2" cy="221.7" r="0.45"/><circle cx="254.0" cy="216.9" r="0.45"/><circle cx="258.0" cy="220.9" r="0.45"/><circle cx="257.3" cy="213.1" r="0.45"/><circle cx="253.3" cy="211.1" r="0.45"/><circle cx="257.2" cy="216.4" r="0.45"/><circle cx="262.4" cy="220.5" r="0.45"/><circle cx="257.3" cy="219.5" r="0.45"/><circle cx="253.1" cy="218.8" r="0.45"/><circle cx="252.8" cy="219.5" r="0.45"/><circle cx="260.3" cy="221.6" r="0.45"/><circle cx="251.3" cy="218.6" r="0.45"/><circle cx="254.7" cy="215.2" r="0.45"/><circle cx="256.4" cy="217.5" r="0.45"/><circle cx="260.5" cy="220.3" r="0.45"/><circle cx="252.2" cy="219.3" r="0.45"/><circle cx="254.3" cy="217.0" r="0.45"/><circle cx="253.6" cy="222.3" r="0.45"/><circle cx="254.0" cy="213.7" r="0.45"/><circle cx="252.2" cy="221.5" r="0.45"/><circle cx="254.3" cy="218.0" r="0.45"/><circle cx="255.8" cy="219.9" r="0.45"/></g>
<g filter="url(#blur1)"><ellipse cx="257" cy="218.6" rx="7.5" ry="5" fill="#a8bcf4" opacity="0.75"/><ellipse cx="255.6" cy="219.2" rx="5.4" ry="3.9" fill="#5878e6" opacity="0.85"/><ellipse cx="256" cy="218.8" rx="3.7" ry="3.2" fill="#3cc43c"/><ellipse cx="256" cy="218.7" rx="1.9" ry="1.6" fill="#7ee050"/></g>
</g>
<g fill="#c8c8d8"><circle cx="293.9" cy="194.1" r="0.4"/><circle cx="286.9" cy="187.1" r="0.4"/><circle cx="297.6" cy="193.5" r="0.4"/><circle cx="290.7" cy="184.7" r="0.4"/><circle cx="294.3" cy="192.6" r="0.4"/><circle cx="300.7" cy="197.2" r="0.4"/><circle cx="293.9" cy="191.3" r="0.4"/><circle cx="290.3" cy="187.3" r="0.4"/><circle cx="291.5" cy="191.2" r="0.4"/><circle cx="293.2" cy="195.3" r="0.4"/><circle cx="291.5" cy="187.4" r="0.4"/><circle cx="293.9" cy="197.5" r="0.4"/><circle cx="292.7" cy="192.6" r="0.4"/><circle cx="292.5" cy="189.6" r="0.4"/><circle cx="289.5" cy="198.2" r="0.4"/><circle cx="298.4" cy="183.2" r="0.4"/><circle cx="286.7" cy="187.5" r="0.4"/><circle cx="289.7" cy="187.4" r="0.4"/><circle cx="294.4" cy="201.8" r="0.4"/><circle cx="297.2" cy="195.7" r="0.4"/><circle cx="288.0" cy="193.2" r="0.4"/><circle cx="289.8" cy="195.6" r="0.4"/></g>
<rect x="248.5" y="179.8" width="37" height="16.3" fill="none" stroke="#9a9a9a" stroke-width="0.8"/>
<rect x="249.2" y="200.1" width="16" height="23.9" fill="none" stroke="#9a9a9a" stroke-width="0.8"/>
<rect x="266.7" y="200.1" width="16.6" height="23.9" fill="none" stroke="#9a9a9a" stroke-width="0.8"/>
<text x="267.5" y="187.4" font-size="5.4" font-weight="bold" text-anchor="middle" textLength="13.5" lengthAdjust="spacingAndGlyphs">17.1%</text>
<text x="257.2" y="212.8" font-size="5.4" font-weight="bold" text-anchor="middle" textLength="14.3" lengthAdjust="spacingAndGlyphs">74.6%</text>
<text x="275.3" y="212.8" font-size="5.4" font-weight="bold" text-anchor="middle" textLength="11" lengthAdjust="spacingAndGlyphs">4.9%</text>
<g filter="url(#blur1)"><ellipse cx="345" cy="190" rx="9.5" ry="4.2" fill="#b4c0f6" opacity="0.8"/><ellipse cx="337" cy="217" rx="5" ry="5.5" fill="#b8c4f4" opacity="0.8"/><ellipse cx="338.3" cy="216.6" rx="2.2" ry="3" fill="#507a60"/></g>
<g fill="#6c80f0"><circle cx="348.2" cy="190.4" r="0.42"/><circle cx="348.0" cy="188.4" r="0.42"/><circle cx="349.5" cy="194.9" r="0.42"/><circle cx="342.2" cy="192.1" r="0.42"/><circle cx="334.0" cy="193.2" r="0.42"/><circle cx="350.0" cy="187.5" r="0.42"/><circle cx="355.5" cy="190.8" r="0.42"/><circle cx="333.6" cy="186.5" r="0.42"/><circle cx="350.0" cy="189.7" r="0.42"/><circle cx="351.5" cy="186.0" r="0.42"/><circle cx="343.9" cy="193.3" r="0.42"/><circle cx="340.2" cy="192.5" r="0.42"/><circle cx="342.2" cy="191.5" r="0.42"/><circle cx="346.5" cy="197.0" r="0.42"/><circle cx="336.7" cy="192.8" r="0.42"/><circle cx="352.8" cy="187.2" r="0.42"/><circle cx="345.0" cy="197.2" r="0.42"/><circle cx="351.1" cy="181.9" r="0.42"/><circle cx="343.0" cy="185.5" r="0.42"/><circle cx="346.4" cy="188.4" r="0.42"/><circle cx="341.0" cy="188.1" r="0.42"/><circle cx="346.4" cy="189.1" r="0.42"/><circle cx="338.8" cy="189.8" r="0.42"/><circle cx="347.1" cy="188.0" r="0.42"/><circle cx="351.5" cy="185.7" r="0.42"/><circle cx="347.1" cy="189.4" r="0.42"/><circle cx="354.4" cy="188.6" r="0.42"/><circle cx="340.3" cy="186.6" r="0.42"/><circle cx="357.0" cy="192.3" r="0.42"/><circle cx="337.7" cy="189.5" r="0.42"/><circle cx="338.5" cy="194.9" r="0.42"/><circle cx="347.1" cy="184.6" r="0.42"/><circle cx="345.8" cy="193.2" r="0.42"/><circle cx="344.5" cy="191.9" r="0.42"/><circle cx="343.8" cy="191.1" r="0.42"/><circle cx="345.8" cy="188.4" r="0.42"/><circle cx="346.7" cy="191.0" r="0.42"/><circle cx="344.3" cy="188.5" r="0.42"/><circle cx="338.1" cy="191.2" r="0.42"/><circle cx="349.7" cy="183.5" r="0.42"/><circle cx="341.1" cy="194.4" r="0.42"/><circle cx="350.3" cy="188.4" r="0.42"/><circle cx="353.0" cy="187.6" r="0.42"/><circle cx="339.5" cy="196.2" r="0.42"/><circle cx="341.7" cy="189.9" r="0.42"/><circle cx="334.1" cy="187.6" r="0.42"/><circle cx="337.1" cy="190.1" r="0.42"/><circle cx="332.9" cy="193.6" r="0.42"/><circle cx="342.3" cy="188.7" r="0.42"/><circle cx="340.5" cy="192.7" r="0.42"/><circle cx="354.2" cy="189.3" r="0.42"/><circle cx="354.7" cy="195.2" r="0.42"/><circle cx="353.0" cy="191.4" r="0.42"/><circle cx="335.1" cy="192.5" r="0.42"/><circle cx="341.9" cy="191.1" r="0.42"/><circle cx="332.6" cy="189.7" r="0.42"/><circle cx="346.0" cy="187.8" r="0.42"/><circle cx="346.4" cy="195.4" r="0.42"/><circle cx="346.0" cy="188.5" r="0.42"/><circle cx="359.6" cy="184.2" r="0.42"/><circle cx="338.7" cy="191.7" r="0.42"/><circle cx="340.8" cy="183.8" r="0.42"/><circle cx="346.1" cy="192.9" r="0.42"/><circle cx="339.5" cy="194.8" r="0.42"/><circle cx="347.7" cy="194.0" r="0.42"/><circle cx="334.8" cy="190.5" r="0.42"/><circle cx="354.6" cy="196.4" r="0.42"/><circle cx="352.8" cy="190.5" r="0.42"/><circle cx="345.7" cy="188.7" r="0.42"/><circle cx="351.5" cy="188.5" r="0.42"/><circle cx="345.3" cy="184.5" r="0.42"/><circle cx="335.0" cy="195.7" r="0.42"/><circle cx="344.9" cy="191.1" r="0.42"/><circle cx="330.6" cy="190.4" r="0.42"/><circle cx="357.6" cy="186.1" r="0.42"/><circle cx="341.1" cy="189.9" r="0.42"/><circle cx="336.5" cy="186.5" r="0.42"/><circle cx="336.7" cy="192.4" r="0.42"/><circle cx="344.2" cy="192.9" r="0.42"/><circle cx="337.7" cy="192.2" r="0.42"/><circle cx="341.7" cy="190.8" r="0.42"/><circle cx="350.4" cy="190.6" r="0.42"/><circle cx="342.3" cy="185.6" r="0.42"/><circle cx="344.9" cy="192.8" r="0.42"/><circle cx="340.5" cy="190.3" r="0.42"/><circle cx="333.3" cy="186.6" r="0.42"/><circle cx="347.1" cy="194.3" r="0.42"/><circle cx="342.5" cy="185.6" r="0.42"/><circle cx="342.1" cy="185.9" r="0.42"/><circle cx="342.7" cy="196.2" r="0.42"/><circle cx="346.4" cy="190.1" r="0.42"/><circle cx="351.1" cy="189.4" r="0.42"/><circle cx="346.6" cy="191.1" r="0.42"/><circle cx="347.3" cy="186.2" r="0.42"/><circle cx="349.0" cy="193.1" r="0.42"/><circle cx="338.8" cy="194.9" r="0.42"/><circle cx="344.6" cy="192.5" r="0.42"/><circle cx="348.0" cy="193.1" r="0.42"/><circle cx="340.4" cy="188.8" r="0.42"/><circle cx="346.9" cy="192.3" r="0.42"/><circle cx="348.2" cy="191.5" r="0.42"/><circle cx="341.4" cy="193.8" r="0.42"/><circle cx="347.5" cy="193.6" r="0.42"/><circle cx="340.3" cy="190.9" r="0.42"/><circle cx="341.5" cy="189.6" r="0.42"/><circle cx="345.7" cy="191.5" r="0.42"/><circle cx="339.4" cy="183.0" r="0.42"/><circle cx="339.5" cy="192.1" r="0.42"/><circle cx="339.1" cy="191.8" r="0.42"/><circle cx="342.1" cy="187.7" r="0.42"/><circle cx="352.0" cy="195.4" r="0.42"/><circle cx="343.8" cy="190.4" r="0.42"/><circle cx="350.6" cy="186.6" r="0.42"/><circle cx="338.9" cy="193.9" r="0.42"/><circle cx="350.3" cy="189.0" r="0.42"/><circle cx="339.5" cy="191.5" r="0.42"/><circle cx="335.5" cy="189.0" r="0.42"/><circle cx="343.0" cy="183.2" r="0.42"/><circle cx="348.3" cy="192.8" r="0.42"/><circle cx="351.4" cy="186.2" r="0.42"/><circle cx="336.2" cy="188.1" r="0.42"/><circle cx="336.1" cy="196.6" r="0.42"/><circle cx="338.2" cy="189.6" r="0.42"/><circle cx="345.8" cy="191.9" r="0.42"/><circle cx="353.8" cy="187.3" r="0.42"/><circle cx="350.2" cy="190.9" r="0.42"/><circle cx="337.0" cy="190.9" r="0.42"/><circle cx="335.5" cy="195.3" r="0.42"/><circle cx="339.8" cy="193.5" r="0.42"/><circle cx="352.9" cy="188.7" r="0.42"/><circle cx="338.7" cy="190.9" r="0.42"/><circle cx="337.7" cy="193.2" r="0.42"/><circle cx="345.6" cy="188.2" r="0.42"/><circle cx="340.1" cy="192.7" r="0.42"/><circle cx="335.1" cy="195.5" r="0.42"/><circle cx="339.4" cy="189.9" r="0.42"/><circle cx="338.5" cy="195.3" r="0.42"/><circle cx="349.8" cy="194.4" r="0.42"/><circle cx="348.7" cy="190.8" r="0.42"/><circle cx="355.5" cy="192.5" r="0.42"/><circle cx="347.3" cy="192.2" r="0.42"/><circle cx="349.3" cy="191.3" r="0.42"/><circle cx="343.4" cy="185.7" r="0.42"/><circle cx="357.8" cy="186.6" r="0.42"/><circle cx="330.6" cy="188.4" r="0.42"/><circle cx="357.0" cy="194.1" r="0.42"/><circle cx="340.6" cy="191.3" r="0.42"/><circle cx="344.3" cy="184.6" r="0.42"/><circle cx="342.3" cy="191.4" r="0.42"/><circle cx="352.1" cy="186.9" r="0.42"/><circle cx="346.6" cy="190.7" r="0.42"/><circle cx="345.5" cy="190.9" r="0.42"/><circle cx="342.1" cy="186.4" r="0.42"/><circle cx="347.4" cy="191.7" r="0.42"/><circle cx="348.2" cy="194.2" r="0.42"/><circle cx="336.5" cy="183.5" r="0.42"/><circle cx="332.9" cy="196.9" r="0.42"/><circle cx="338.6" cy="191.7" r="0.42"/><circle cx="344.4" cy="192.7" r="0.42"/><circle cx="343.4" cy="188.7" r="0.42"/><circle cx="346.1" cy="192.1" r="0.42"/><circle cx="338.2" cy="194.4" r="0.42"/><circle cx="351.9" cy="191.8" r="0.42"/><circle cx="343.8" cy="189.8" r="0.42"/></g>
<g fill="#6478ec"><circle cx="333.1" cy="214.2" r="0.42"/><circle cx="341.0" cy="212.4" r="0.42"/><circle cx="334.9" cy="220.4" r="0.42"/><circle cx="344.4" cy="213.4" r="0.42"/><circle cx="341.4" cy="213.6" r="0.42"/><circle cx="338.6" cy="218.7" r="0.42"/><circle cx="332.4" cy="221.1" r="0.42"/><circle cx="344.2" cy="216.7" r="0.42"/><circle cx="338.1" cy="211.2" r="0.42"/><circle cx="344.2" cy="216.8" r="0.42"/><circle cx="331.9" cy="219.9" r="0.42"/><circle cx="331.2" cy="213.4" r="0.42"/><circle cx="334.4" cy="213.9" r="0.42"/><circle cx="334.7" cy="219.0" r="0.42"/><circle cx="342.8" cy="212.0" r="0.42"/><circle cx="338.8" cy="208.4" r="0.42"/><circle cx="343.1" cy="216.1" r="0.42"/><circle cx="334.2" cy="223.4" r="0.42"/><circle cx="336.6" cy="222.7" r="0.42"/><circle cx="341.3" cy="224.0" r="0.42"/><circle cx="333.8" cy="216.8" r="0.42"/><circle cx="338.5" cy="215.6" r="0.42"/><circle cx="343.1" cy="213.3" r="0.42"/><circle cx="341.0" cy="222.6" r="0.42"/><circle cx="333.4" cy="214.0" r="0.42"/><circle cx="338.6" cy="215.7" r="0.42"/><circle cx="337.3" cy="214.4" r="0.42"/><circle cx="336.7" cy="218.7" r="0.42"/><circle cx="340.0" cy="213.0" r="0.42"/><circle cx="336.5" cy="213.1" r="0.42"/><circle cx="336.3" cy="210.0" r="0.42"/><circle cx="340.8" cy="219.5" r="0.42"/><circle cx="336.5" cy="213.4" r="0.42"/><circle cx="335.2" cy="213.5" r="0.42"/><circle cx="330.8" cy="223.8" r="0.42"/><circle cx="332.3" cy="219.1" r="0.42"/><circle cx="339.4" cy="209.4" r="0.42"/><circle cx="335.0" cy="216.9" r="0.42"/><circle cx="337.0" cy="214.0" r="0.42"/><circle cx="336.4" cy="215.2" r="0.42"/><circle cx="342.0" cy="216.1" r="0.42"/><circle cx="336.9" cy="214.1" r="0.42"/><circle cx="334.5" cy="213.2" r="0.42"/><circle cx="337.0" cy="224.8" r="0.42"/><circle cx="341.5" cy="217.6" r="0.42"/><circle cx="343.7" cy="221.1" r="0.42"/><circle cx="337.8" cy="215.8" r="0.42"/><circle cx="332.6" cy="217.6" r="0.42"/><circle cx="335.7" cy="209.4" r="0.42"/><circle cx="337.9" cy="218.7" r="0.42"/><circle cx="337.8" cy="214.4" r="0.42"/><circle cx="338.8" cy="221.4" r="0.42"/><circle cx="335.8" cy="218.8" r="0.42"/><circle cx="341.1" cy="214.3" r="0.42"/><circle cx="337.7" cy="213.2" r="0.42"/><circle cx="339.4" cy="214.8" r="0.42"/><circle cx="341.6" cy="213.1" r="0.42"/><circle cx="343.8" cy="215.1" r="0.42"/><circle cx="333.6" cy="212.4" r="0.42"/><circle cx="339.7" cy="212.6" r="0.42"/><circle cx="344.2" cy="222.3" r="0.42"/><circle cx="339.1" cy="210.1" r="0.42"/><circle cx="336.9" cy="213.2" r="0.42"/><circle cx="340.2" cy="222.3" r="0.42"/><circle cx="333.2" cy="215.0" r="0.42"/><circle cx="338.1" cy="218.6" r="0.42"/><circle cx="332.4" cy="217.5" r="0.42"/><circle cx="336.6" cy="220.8" r="0.42"/><circle cx="335.0" cy="215.1" r="0.42"/></g>
<rect x="329.6" y="180.9" width="34.9" height="17.4" fill="none" stroke="#9a9a9a" stroke-width="0.8"/>
<rect x="330.3" y="201.4" width="14.9" height="23.9" fill="none" stroke="#9a9a9a" stroke-width="0.8"/>
<rect x="346.4" y="201.4" width="16.8" height="23.9" fill="none" stroke="#9a9a9a" stroke-width="0.8"/>
<text x="346.7" y="190.3" font-size="5.4" font-weight="bold" text-anchor="middle" textLength="14" lengthAdjust="spacingAndGlyphs">43.2%</text>
<text x="337.5" y="213.8" font-size="5.4" font-weight="bold" text-anchor="middle" textLength="14" lengthAdjust="spacingAndGlyphs">46.1%</text>
<text x="355.2" y="213.8" font-size="5.4" font-weight="bold" text-anchor="middle" textLength="11" lengthAdjust="spacingAndGlyphs">7.7%</text>
<line x1="229.7" y1="197.5" x2="229.7" y2="235.3" stroke="#111" stroke-width="1"/>
<line x1="229.7" y1="235.3" x2="296.5" y2="235.3" stroke="#111" stroke-width="1"/>
<polygon points="229.7,194.7 227.7,198.6 231.7,198.6" fill="#111"/>
<polygon points="300.3,235.3 296,233.3 296,237.3" fill="#111"/>
<text x="232.4" y="193.0" font-size="7.0" font-weight="bold" textLength="17.3" lengthAdjust="spacingAndGlyphs" transform="rotate(-90 232.4 193.0)">BrdU</text>
<text x="304" y="238.3" font-size="6.8" font-weight="bold" textLength="21.9" lengthAdjust="spacingAndGlyphs">7-AAD</text>
<text x="267.1" y="250.9" font-size="8.8" font-weight="bold" textLength="12.8" lengthAdjust="spacingAndGlyphs">WT</text>
<text x="335.4" y="250.9" font-size="8.8" font-weight="bold" textLength="22.0" lengthAdjust="spacingAndGlyphs">Pot1b</text>
<text x="357.8" y="247.7" font-size="4.9" font-weight="bold" textLength="11.5" lengthAdjust="spacingAndGlyphs" fill="#333">Δ/Δ</text>
<line x1="432.0" y1="157.5" x2="432.0" y2="228.6" stroke="#111" stroke-width="1.4"/>
<line x1="431.3" y1="227.9" x2="510" y2="227.9" stroke="#111" stroke-width="1.4"/>
<text x="428.0" y="229.5" font-size="4.6" font-weight="bold" text-anchor="end" fill="#222">0</text>
<text x="428.0" y="219.4" font-size="4.6" font-weight="bold" text-anchor="end" fill="#222">10</text>
<text x="428.0" y="209.3" font-size="4.6" font-weight="bold" text-anchor="end" fill="#222">20</text>
<text x="428.0" y="199.20000000000002" font-size="4.6" font-weight="bold" text-anchor="end" fill="#222">30</text>
<text x="428.0" y="189.1" font-size="4.6" font-weight="bold" text-anchor="end" fill="#222">40</text>
<text x="428.0" y="179.0" font-size="4.6" font-weight="bold" text-anchor="end" fill="#222">50</text>
<text x="428.0" y="168.9" font-size="4.6" font-weight="bold" text-anchor="end" fill="#222">60</text>
<text x="428.0" y="158.79999999999998" font-size="4.6" font-weight="bold" text-anchor="end" fill="#222">70</text>
<text x="418.2" y="210.8" font-size="7.6" font-weight="bold" textLength="35.4" lengthAdjust="spacingAndGlyphs" transform="rotate(-90 418.2 210.8)">S phase %</text>
<text x="441.4" y="162.5" font-size="7.2" font-weight="bold" textLength="37.2" lengthAdjust="spacingAndGlyphs">P=2.4 x 10</text>
<text x="478.7" y="159.8" font-size="4.0" font-weight="bold" textLength="3.0" lengthAdjust="spacingAndGlyphs">-3</text>
<text x="481.5" y="162.5" font-size="7.2" font-weight="bold" textLength="15.6" lengthAdjust="spacingAndGlyphs">, n=6</text>
<polyline points="456.5,171 456.5,167.4 488.5,167.4 488.5,171" fill="none" stroke="#333" stroke-width="0.9"/>
<rect x="457.35" y="201.15" width="2.3" height="2.3" fill="#9a1aa6"/>
<rect x="457.35" y="204.04999999999998" width="2.3" height="2.3" fill="#e21ad6"/>
<circle cx="458.5" cy="208.6" r="1.15" fill="#1a1a8a"/>
<rect x="457.35" y="210.65" width="2.3" height="2.3" fill="#f2f23a"/>
<path d="M457.4,213.4L459.6,215.6M459.6,213.4L457.4,215.6" stroke="#3ad6e6" stroke-width="0.9"/>
<rect x="486.45000000000005" y="173.04999999999998" width="2.3" height="2.3" fill="#7a1a8a"/>
<rect x="486.45000000000005" y="175.45" width="2.3" height="2.3" fill="#e21ad6"/>
<path d="M486.5,178.0L488.70000000000005,180.2M488.70000000000005,178.0L486.5,180.2" stroke="#8a2aa6" stroke-width="0.9"/>
<circle cx="487.6" cy="182.4" r="1.15" fill="#1a1a8a"/>
<rect x="486.45000000000005" y="184.65" width="2.3" height="2.3" fill="#3ad6e6"/>
<path d="M486.5,188.4L488.70000000000005,190.6M488.70000000000005,188.4L486.5,190.6" stroke="#6a3ab6" stroke-width="0.9"/>
<rect x="486.45000000000005" y="194.45" width="2.3" height="2.3" fill="#f2f23a"/>
<text x="454.8" y="243.8" font-size="8.6" font-weight="bold" textLength="13.3" lengthAdjust="spacingAndGlyphs">WT</text>
<text x="481.8" y="243.8" font-size="8.6" font-weight="bold" textLength="23.1" lengthAdjust="spacingAndGlyphs">Pot1b</text>
<text x="505.6" y="241.8" font-size="4.4" font-weight="bold" textLength="9.4" lengthAdjust="spacingAndGlyphs" fill="#666">Δ/Δ</text>
<text x="0.9" y="270.8" font-size="14.5" font-weight="bold">F</text>
<rect x="56.8" y="283.3" width="65.2" height="61.39999999999998" fill="none" stroke="#c4c4c4" stroke-width="0.8"/>
<text x="55.199999999999996" y="285" font-size="2.2" text-anchor="end" fill="#aaa">10</text>
<text x="55.199999999999996" y="298" font-size="2.2" text-anchor="end" fill="#aaa">10</text>
<text x="55.199999999999996" y="311" font-size="2.2" text-anchor="end" fill="#aaa">10</text>
<text x="55.199999999999996" y="324" font-size="2.2" text-anchor="end" fill="#aaa">10</text>
<text x="55.199999999999996" y="337" font-size="2.2" text-anchor="end" fill="#aaa">10</text>
<line x1="67.8" y1="348.7" x2="69.60000000000001" y2="348.7" stroke="#b0b0b0" stroke-width="0.8"/>
<line x1="80.5" y1="348.7" x2="82.30000000000001" y2="348.7" stroke="#b0b0b0" stroke-width="0.8"/>
<line x1="93.79999999999998" y1="348.7" x2="95.6" y2="348.7" stroke="#b0b0b0" stroke-width="0.8"/>
<line x1="105.89999999999999" y1="348.7" x2="107.7" y2="348.7" stroke="#b0b0b0" stroke-width="0.8"/>
<line x1="117.29999999999998" y1="348.7" x2="119.1" y2="348.7" stroke="#b0b0b0" stroke-width="0.8"/>
<rect x="141.6" y="284" width="66.4" height="60.5" fill="none" stroke="#c4c4c4" stroke-width="0.8"/>
<text x="140.0" y="285" font-size="2.2" text-anchor="end" fill="#aaa">10</text>
<text x="140.0" y="298" font-size="2.2" text-anchor="end" fill="#aaa">10</text>
<text x="140.0" y="311" font-size="2.2" text-anchor="end" fill="#aaa">10</text>
<text x="140.0" y="324" font-size="2.2" text-anchor="end" fill="#aaa">10</text>
<text x="140.0" y="337" font-size="2.2" text-anchor="end" fill="#aaa">10</text>
<line x1="152.6" y1="348.5" x2="154.4" y2="348.5" stroke="#b0b0b0" stroke-width="0.8"/>
<line x1="165.29999999999998" y1="348.5" x2="167.1" y2="348.5" stroke="#b0b0b0" stroke-width="0.8"/>
<line x1="178.6" y1="348.5" x2="180.4" y2="348.5" stroke="#b0b0b0" stroke-width="0.8"/>
<line x1="190.7" y1="348.5" x2="192.5" y2="348.5" stroke="#b0b0b0" stroke-width="0.8"/>
<line x1="202.1" y1="348.5" x2="203.9" y2="348.5" stroke="#b0b0b0" stroke-width="0.8"/>
<g filter="url(#blur05)" fill="none">
<path d="M70.5,309 C70.5,301 73,298.5 77,298.5 C80,298.5 82,301 82,304 C84,299 90,297.5 94,299.5 C97,301.5 96.5,305.5 92,306.5" stroke="#d8d8d8" stroke-width="0.8"/>
<ellipse cx="75.9" cy="309.6" rx="5.6" ry="9.8" stroke="#c8c8c8" stroke-width="0.8" fill="#f4f4f4"/>
<path d="M83.5,303.5 C85,299.8 91,298.8 94,301 C95.5,303 93.5,305.5 89,305.8 C86.5,306 84.5,305.2 83.5,303.5 Z" stroke="#a0a0a0" stroke-width="0.9" fill="#ececec"/>
<path d="M85.8,303.2 C87.2,301.2 91,300.8 92.4,302.2 C93,303.4 91.4,304.3 88.8,304.3 C87.3,304.3 86.2,303.9 85.8,303.2 Z" stroke="#d0d0d0" stroke-width="0.6"/>
<ellipse cx="75.9" cy="309.4" rx="4.8" ry="8.4" stroke="#6a6a6a" stroke-width="0.8" fill="#e8e8e8"/>
<ellipse cx="75.9" cy="309.5" rx="3.7" ry="6.9" stroke="#4a4a4a" stroke-width="0.8" fill="#d8d8d8"/>
<ellipse cx="75.9" cy="309.6" rx="2.5" ry="5.3" stroke="#333" stroke-width="0.8" fill="#c4c4c4"/>
<line x1="74.8" y1="305.5" x2="74.8" y2="313.5" stroke="#1a1a1a" stroke-width="0.8"/><line x1="77.1" y1="305.5" x2="77.1" y2="313.5" stroke="#1a1a1a" stroke-width="0.8"/>
</g>
<g filter="url(#blur1)">
<ellipse cx="161.2" cy="306.8" rx="5.2" ry="9.5" fill="#d4d4d4" transform="rotate(10 161.2 306.8)"/>
<ellipse cx="173.6" cy="301.5" rx="10.5" ry="5.2" fill="#d4d4d4" transform="rotate(-25 173.6 301.5)"/>
<ellipse cx="167" cy="304.5" rx="3" ry="2" fill="#c0c0c0"/>
</g>
<g filter="url(#blur05)">
<ellipse cx="174.2" cy="301.3" rx="8.4" ry="3.6" fill="#8a8a8a" stroke="#222" stroke-width="1.3" transform="rotate(-20 174.2 301.3)"/>
<ellipse cx="173.6" cy="301.6" rx="5.6" ry="1.7" fill="#b0b0b0" stroke="#444" stroke-width="0.6" transform="rotate(-20 173.6 301.6)"/>
<ellipse cx="161.3" cy="306.6" rx="4.6" ry="8" fill="#bcbcbc" stroke="#8a8a8a" stroke-width="0.7" transform="rotate(12 161.3 306.6)"/>
<ellipse cx="161.2" cy="307.6" rx="3.3" ry="5.6" fill="#9a9a9a" stroke="#101010" stroke-width="1.6" transform="rotate(10 161.2 307.6)"/>
<ellipse cx="161.6" cy="307.4" rx="1.1" ry="2.8" fill="#f4f4f4" transform="rotate(10 161.6 307.4)"/>
</g>
<line x1="82.6" y1="283.3" x2="82.6" y2="344.7" stroke="#b4b4b4" stroke-width="1.1"/>
<line x1="56.8" y1="309.3" x2="122" y2="309.3" stroke="#5a5a5a" stroke-width="0.8"/>
<line x1="167.6" y1="284" x2="167.6" y2="344.5" stroke="#b4b4b4" stroke-width="1.1"/>
<line x1="141.6" y1="309.5" x2="208" y2="309.5" stroke="#6a6a6a" stroke-width="0.8"/>
<text x="57.9" y="287.8" font-size="4.4" font-weight="bold" textLength="17.1" lengthAdjust="spacingAndGlyphs">39.72%</text>
<text x="120.2" y="287.8" font-size="4.4" font-weight="bold" text-anchor="end" textLength="16.6" lengthAdjust="spacingAndGlyphs">15.51%</text>
<text x="58.4" y="344.0" font-size="4.4" font-weight="bold" textLength="17.3" lengthAdjust="spacingAndGlyphs">44.43%</text>
<text x="120.7" y="344.0" font-size="4.4" font-weight="bold" text-anchor="end" textLength="13.9" lengthAdjust="spacingAndGlyphs">0.35%</text>
<text x="142.0" y="289.8" font-size="4.4" font-weight="bold" textLength="17.9" lengthAdjust="spacingAndGlyphs">41.37%</text>
<text x="207.3" y="289.8" font-size="4.4" font-weight="bold" text-anchor="end" textLength="17.5" lengthAdjust="spacingAndGlyphs">45.92%</text>
<text x="143.2" y="343.8" font-size="4.4" font-weight="bold" textLength="17.0" lengthAdjust="spacingAndGlyphs">12.71%</text>
<text x="208.0" y="343.8" font-size="4.4" font-weight="bold" text-anchor="end" textLength="14.8" lengthAdjust="spacingAndGlyphs">0.00%</text>
<text x="66.8" y="295.1" font-size="6.9" textLength="8.2" lengthAdjust="spacingAndGlyphs">G1</text>
<text x="89.6" y="295.1" font-size="6.9" textLength="26" lengthAdjust="spacingAndGlyphs">S+G2+M</text>
<text x="63.0" y="334.5" font-size="6.9" textLength="8.9" lengthAdjust="spacingAndGlyphs">G0</text>
<text x="150.1" y="296.5" font-size="6.9" textLength="8.7" lengthAdjust="spacingAndGlyphs">G1</text>
<text x="177.7" y="296.5" font-size="6.9" textLength="26.9" lengthAdjust="spacingAndGlyphs">S+G2+M</text>
<text x="147.4" y="336.4" font-size="6.9" textLength="9.4" lengthAdjust="spacingAndGlyphs">G0</text>
<line x1="43.6" y1="320" x2="43.6" y2="356" stroke="#222" stroke-width="1.1"/>
<line x1="43.6" y1="356" x2="109.5" y2="356" stroke="#222" stroke-width="1.1"/>
<polygon points="43.6,316.8 41.6,321 45.6,321" fill="#111"/>
<polygon points="112.6,356 108.4,354 108.4,358" fill="#111"/>
<text x="45.6" y="315.5" font-size="6.8" font-weight="bold" textLength="33.1" lengthAdjust="spacingAndGlyphs" transform="rotate(-90 45.6 315.5)">Pyronin Y</text>
<text x="114.1" y="358.8" font-size="6.9" font-weight="bold" textLength="28.1" lengthAdjust="spacingAndGlyphs">Hoechst</text>
<text x="76.7" y="370.7" font-size="8.8" font-weight="bold" textLength="13.0" lengthAdjust="spacingAndGlyphs">WT</text>
<text x="152.0" y="370.7" font-size="8.8" font-weight="bold" textLength="24.2" lengthAdjust="spacingAndGlyphs">Pot1b</text>
<text x="176.3" y="368.4" font-size="5.4" font-weight="bold" textLength="9.1" lengthAdjust="spacingAndGlyphs" fill="#333">Δ/Δ</text>
<line x1="246.8" y1="279.3" x2="246.8" y2="359.59999999999997" stroke="#111" stroke-width="1.4"/>
<line x1="246.10000000000002" y1="358.9" x2="324" y2="358.9" stroke="#111" stroke-width="1.4"/>
<text x="244.5" y="360.0" font-size="4.6" font-weight="bold" text-anchor="end" fill="#222">0</text>
<text x="244.5" y="350.06" font-size="4.6" font-weight="bold" text-anchor="end" fill="#222">10</text>
<text x="244.5" y="340.12" font-size="4.6" font-weight="bold" text-anchor="end" fill="#222">20</text>
<text x="244.5" y="330.18" font-size="4.6" font-weight="bold" text-anchor="end" fill="#222">30</text>
<text x="244.5" y="320.24" font-size="4.6" font-weight="bold" text-anchor="end" fill="#222">40</text>
<text x="244.5" y="310.3" font-size="4.6" font-weight="bold" text-anchor="end" fill="#222">50</text>
<text x="244.5" y="300.36" font-size="4.6" font-weight="bold" text-anchor="end" fill="#222">60</text>
<text x="244.5" y="290.42" font-size="4.6" font-weight="bold" text-anchor="end" fill="#222">70</text>
<text x="244.5" y="280.48" font-size="4.6" font-weight="bold" text-anchor="end" fill="#222">80</text>
<text x="233.4" y="319.8" font-size="7.6" font-weight="bold" textLength="17.4" lengthAdjust="spacingAndGlyphs" transform="rotate(-90 233.4 319.8)">G0 %</text>
<text x="264.2" y="281.9" font-size="7.2" font-weight="bold" textLength="33.2" lengthAdjust="spacingAndGlyphs">P=1.0 x 10</text>
<text x="298.4" y="279.0" font-size="4.0" font-weight="bold" textLength="3.7" lengthAdjust="spacingAndGlyphs">-4</text>
<text x="303.2" y="281.9" font-size="7.2" font-weight="bold" textLength="16.4" lengthAdjust="spacingAndGlyphs">, n=6</text>
<polyline points="276.5,288.6 276.5,285.3 305.7,285.3 305.7,288.6" fill="none" stroke="#333" stroke-width="0.9"/>
<rect x="275.3" y="294.7" width="2.4" height="2.4" fill="#e21ad6"/>
<rect x="275.3" y="300.5" width="2.4" height="2.4" fill="#f2f23a"/>
<path d="M275.4,309.79999999999995L277.6,312.0M277.6,309.79999999999995L275.4,312.0" stroke="#6a2a8a" stroke-width="0.9"/>
<circle cx="276.5" cy="318.8" r="1.2" fill="#1a1a7a"/>
<path d="M275.4,322.59999999999997L277.6,324.8M277.6,322.59999999999997L275.4,324.8" stroke="#3ad6e6" stroke-width="0.9"/>
<path d="M303.9,344.5L306.1,346.70000000000005M306.1,344.5L303.9,346.70000000000005" stroke="#3ad6e6" stroke-width="0.9"/>
<rect x="303.8" y="347.7" width="2.4" height="2.4" fill="#f2f23a"/>
<rect x="303.8" y="350.40000000000003" width="2.4" height="2.4" fill="#b01a2a"/>
<rect x="303.8" y="352.6" width="2.4" height="2.4" fill="#d21ad6"/>
<text x="272.7" y="372.6" font-size="8.8" font-weight="bold" textLength="13.1" lengthAdjust="spacingAndGlyphs">WT</text>
<text x="297.3" y="372.6" font-size="8.8" font-weight="bold" textLength="23.1" lengthAdjust="spacingAndGlyphs">Pot1b</text>
<text x="321.2" y="371.0" font-size="4.6" font-weight="bold" textLength="8.4" lengthAdjust="spacingAndGlyphs" fill="#666">Δ/Δ</text>
</svg>
</body></html>
